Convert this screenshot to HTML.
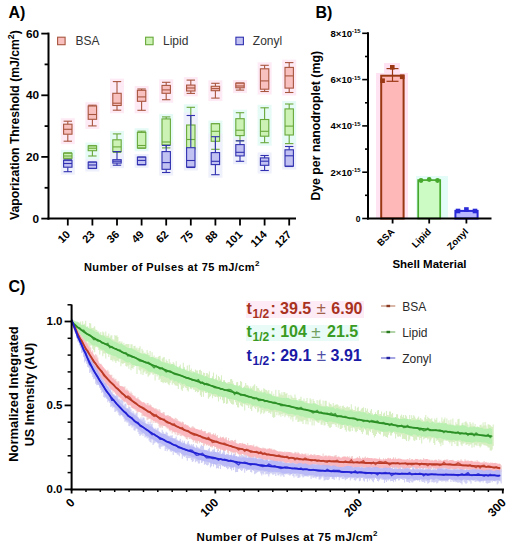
<!DOCTYPE html>
<html><head><meta charset="utf-8"><style>
html,body{margin:0;padding:0;background:#fff;}
svg{display:block;font-family:"Liberation Sans", sans-serif;}
</style></head><body>
<svg width="508" height="550" viewBox="0 0 508 550" font-family='"Liberation Sans", sans-serif'>
<rect width="508" height="550" fill="#fff"/>
<rect x="60.8" y="118.2" width="14" height="26.0" fill="#fdeaf5"/>
<rect x="60.8" y="149.8" width="14" height="12.2" fill="#e6fbf6"/>
<rect x="60.8" y="157.0" width="14" height="17.7" fill="#eef0fb"/>
<rect x="85.4" y="102.2" width="14" height="26.7" fill="#fdeaf5"/>
<rect x="85.4" y="142.5" width="14" height="16.5" fill="#e6fbf6"/>
<rect x="85.4" y="159.0" width="14" height="12.5" fill="#eef0fb"/>
<rect x="110.0" y="78.6" width="14" height="34.6" fill="#fdeaf5"/>
<rect x="110.0" y="130.9" width="14" height="24.4" fill="#e6fbf6"/>
<rect x="110.0" y="148.6" width="14" height="19.6" fill="#eef0fb"/>
<rect x="134.6" y="86.0" width="14" height="27.3" fill="#fdeaf5"/>
<rect x="134.6" y="128.2" width="14" height="23.1" fill="#e6fbf6"/>
<rect x="134.6" y="154.0" width="14" height="13.8" fill="#eef0fb"/>
<rect x="159.2" y="79.3" width="14" height="23.4" fill="#fdeaf5"/>
<rect x="159.2" y="113.9" width="14" height="37.0" fill="#e6fbf6"/>
<rect x="159.2" y="142.4" width="14" height="33.1" fill="#eef0fb"/>
<rect x="183.8" y="77.1" width="14" height="19.3" fill="#fdeaf5"/>
<rect x="183.8" y="104.3" width="14" height="48.7" fill="#e6fbf6"/>
<rect x="183.8" y="112.5" width="14" height="58.0" fill="#eef0fb"/>
<rect x="208.4" y="80.3" width="14" height="20.8" fill="#fdeaf5"/>
<rect x="208.4" y="120.6" width="14" height="31.7" fill="#e6fbf6"/>
<rect x="208.4" y="133.7" width="14" height="44.0" fill="#eef0fb"/>
<rect x="233.0" y="80.0" width="14" height="13.1" fill="#fdeaf5"/>
<rect x="233.0" y="109.7" width="14" height="34.1" fill="#e6fbf6"/>
<rect x="233.0" y="137.8" width="14" height="26.5" fill="#eef0fb"/>
<rect x="257.6" y="62.3" width="14" height="32.2" fill="#fdeaf5"/>
<rect x="257.6" y="104.8" width="14" height="40.9" fill="#e6fbf6"/>
<rect x="257.6" y="152.5" width="14" height="21.0" fill="#eef0fb"/>
<rect x="282.2" y="59.6" width="14" height="35.9" fill="#fdeaf5"/>
<rect x="282.2" y="101.0" width="14" height="45.6" fill="#e6fbf6"/>
<rect x="282.2" y="143.5" width="14" height="26.0" fill="#eef0fb"/>
<line x1="67.8" y1="152.8" x2="67.8" y2="153.3" stroke="#68a83a" stroke-width="1.1"/><line x1="67.8" y1="158.3" x2="67.8" y2="159.0" stroke="#68a83a" stroke-width="1.1"/><line x1="63.6" y1="152.8" x2="72.0" y2="152.8" stroke="#68a83a" stroke-width="1.1"/><line x1="63.6" y1="159.0" x2="72.0" y2="159.0" stroke="#68a83a" stroke-width="1.1"/><rect x="63.6" y="153.3" width="8.4" height="5.0" fill="#cdf2b5" stroke="#68a83a" stroke-width="1.1"/><line x1="63.6" y1="156.0" x2="72.0" y2="156.0" stroke="#68a83a" stroke-width="1.1"/>
<line x1="92.4" y1="145.5" x2="92.4" y2="145.9" stroke="#68a83a" stroke-width="1.1"/><line x1="92.4" y1="150.7" x2="92.4" y2="156.0" stroke="#68a83a" stroke-width="1.1"/><line x1="88.2" y1="145.5" x2="96.6" y2="145.5" stroke="#68a83a" stroke-width="1.1"/><line x1="88.2" y1="156.0" x2="96.6" y2="156.0" stroke="#68a83a" stroke-width="1.1"/><rect x="88.2" y="145.9" width="8.4" height="4.8" fill="#cdf2b5" stroke="#68a83a" stroke-width="1.1"/><line x1="88.2" y1="148.2" x2="96.6" y2="148.2" stroke="#68a83a" stroke-width="1.1"/>
<line x1="117.0" y1="133.9" x2="117.0" y2="139.8" stroke="#68a83a" stroke-width="1.1"/><line x1="117.0" y1="151.6" x2="117.0" y2="152.3" stroke="#68a83a" stroke-width="1.1"/><line x1="112.8" y1="133.9" x2="121.2" y2="133.9" stroke="#68a83a" stroke-width="1.1"/><line x1="112.8" y1="152.3" x2="121.2" y2="152.3" stroke="#68a83a" stroke-width="1.1"/><rect x="112.8" y="139.8" width="8.4" height="11.8" fill="#cdf2b5" stroke="#68a83a" stroke-width="1.1"/><line x1="112.8" y1="146.9" x2="121.2" y2="146.9" stroke="#68a83a" stroke-width="1.1"/>
<line x1="141.6" y1="131.2" x2="141.6" y2="132.4" stroke="#68a83a" stroke-width="1.1"/><line x1="141.6" y1="147.9" x2="141.6" y2="148.3" stroke="#68a83a" stroke-width="1.1"/><line x1="137.4" y1="131.2" x2="145.8" y2="131.2" stroke="#68a83a" stroke-width="1.1"/><line x1="137.4" y1="148.3" x2="145.8" y2="148.3" stroke="#68a83a" stroke-width="1.1"/><rect x="137.4" y="132.4" width="8.4" height="15.5" fill="#cdf2b5" stroke="#68a83a" stroke-width="1.1"/><line x1="137.4" y1="145.5" x2="145.8" y2="145.5" stroke="#68a83a" stroke-width="1.1"/>
<line x1="166.2" y1="116.9" x2="166.2" y2="118.9" stroke="#68a83a" stroke-width="1.1"/><line x1="166.2" y1="144.9" x2="166.2" y2="147.9" stroke="#68a83a" stroke-width="1.1"/><line x1="162.0" y1="116.9" x2="170.4" y2="116.9" stroke="#68a83a" stroke-width="1.1"/><line x1="162.0" y1="147.9" x2="170.4" y2="147.9" stroke="#68a83a" stroke-width="1.1"/><rect x="162.0" y="118.9" width="8.4" height="26.0" fill="#cdf2b5" stroke="#68a83a" stroke-width="1.1"/><line x1="162.0" y1="142.0" x2="170.4" y2="142.0" stroke="#68a83a" stroke-width="1.1"/>
<line x1="190.8" y1="107.3" x2="190.8" y2="125.0" stroke="#68a83a" stroke-width="1.1"/><line x1="190.8" y1="149.0" x2="190.8" y2="150.0" stroke="#68a83a" stroke-width="1.1"/><line x1="186.6" y1="107.3" x2="195.0" y2="107.3" stroke="#68a83a" stroke-width="1.1"/><line x1="186.6" y1="150.0" x2="195.0" y2="150.0" stroke="#68a83a" stroke-width="1.1"/><rect x="186.6" y="125.0" width="8.4" height="24.0" fill="#cdf2b5" stroke="#68a83a" stroke-width="1.1"/><line x1="186.6" y1="139.5" x2="195.0" y2="139.5" stroke="#68a83a" stroke-width="1.1"/>
<line x1="215.4" y1="123.6" x2="215.4" y2="123.8" stroke="#68a83a" stroke-width="1.1"/><line x1="215.4" y1="141.3" x2="215.4" y2="149.3" stroke="#68a83a" stroke-width="1.1"/><line x1="211.2" y1="123.6" x2="219.6" y2="123.6" stroke="#68a83a" stroke-width="1.1"/><line x1="211.2" y1="149.3" x2="219.6" y2="149.3" stroke="#68a83a" stroke-width="1.1"/><rect x="211.2" y="123.8" width="8.4" height="17.5" fill="#cdf2b5" stroke="#68a83a" stroke-width="1.1"/><line x1="211.2" y1="131.3" x2="219.6" y2="131.3" stroke="#68a83a" stroke-width="1.1"/>
<line x1="240.0" y1="112.7" x2="240.0" y2="118.7" stroke="#68a83a" stroke-width="1.1"/><line x1="240.0" y1="135.6" x2="240.0" y2="140.8" stroke="#68a83a" stroke-width="1.1"/><line x1="235.8" y1="112.7" x2="244.2" y2="112.7" stroke="#68a83a" stroke-width="1.1"/><line x1="235.8" y1="140.8" x2="244.2" y2="140.8" stroke="#68a83a" stroke-width="1.1"/><rect x="235.8" y="118.7" width="8.4" height="16.9" fill="#cdf2b5" stroke="#68a83a" stroke-width="1.1"/><line x1="235.8" y1="130.2" x2="244.2" y2="130.2" stroke="#68a83a" stroke-width="1.1"/>
<line x1="264.6" y1="107.8" x2="264.6" y2="119.5" stroke="#68a83a" stroke-width="1.1"/><line x1="264.6" y1="136.2" x2="264.6" y2="142.7" stroke="#68a83a" stroke-width="1.1"/><line x1="260.4" y1="107.8" x2="268.8" y2="107.8" stroke="#68a83a" stroke-width="1.1"/><line x1="260.4" y1="142.7" x2="268.8" y2="142.7" stroke="#68a83a" stroke-width="1.1"/><rect x="260.4" y="119.5" width="8.4" height="16.7" fill="#cdf2b5" stroke="#68a83a" stroke-width="1.1"/><line x1="260.4" y1="131.3" x2="268.8" y2="131.3" stroke="#68a83a" stroke-width="1.1"/>
<line x1="289.2" y1="104.0" x2="289.2" y2="108.9" stroke="#68a83a" stroke-width="1.1"/><line x1="289.2" y1="135.0" x2="289.2" y2="143.6" stroke="#68a83a" stroke-width="1.1"/><line x1="285.0" y1="104.0" x2="293.4" y2="104.0" stroke="#68a83a" stroke-width="1.1"/><line x1="285.0" y1="143.6" x2="293.4" y2="143.6" stroke="#68a83a" stroke-width="1.1"/><rect x="285.0" y="108.9" width="8.4" height="26.1" fill="#cdf2b5" stroke="#68a83a" stroke-width="1.1"/><line x1="285.0" y1="126.1" x2="293.4" y2="126.1" stroke="#68a83a" stroke-width="1.1"/>
<line x1="67.8" y1="121.2" x2="67.8" y2="124.2" stroke="#a8553e" stroke-width="1.1"/><line x1="67.8" y1="134.2" x2="67.8" y2="141.2" stroke="#a8553e" stroke-width="1.1"/><line x1="63.6" y1="121.2" x2="72.0" y2="121.2" stroke="#a8553e" stroke-width="1.1"/><line x1="63.6" y1="141.2" x2="72.0" y2="141.2" stroke="#a8553e" stroke-width="1.1"/><rect x="63.6" y="124.2" width="8.4" height="10.0" fill="#f9c0c0" stroke="#a8553e" stroke-width="1.1"/><line x1="63.6" y1="129.3" x2="72.0" y2="129.3" stroke="#a8553e" stroke-width="1.1"/>
<line x1="92.4" y1="105.2" x2="92.4" y2="106.0" stroke="#a8553e" stroke-width="1.1"/><line x1="92.4" y1="119.3" x2="92.4" y2="125.9" stroke="#a8553e" stroke-width="1.1"/><line x1="88.2" y1="105.2" x2="96.6" y2="105.2" stroke="#a8553e" stroke-width="1.1"/><line x1="88.2" y1="125.9" x2="96.6" y2="125.9" stroke="#a8553e" stroke-width="1.1"/><rect x="88.2" y="106.0" width="8.4" height="13.3" fill="#f9c0c0" stroke="#a8553e" stroke-width="1.1"/><line x1="88.2" y1="114.5" x2="96.6" y2="114.5" stroke="#a8553e" stroke-width="1.1"/>
<line x1="117.0" y1="81.6" x2="117.0" y2="93.3" stroke="#a8553e" stroke-width="1.1"/><line x1="117.0" y1="105.5" x2="117.0" y2="110.2" stroke="#a8553e" stroke-width="1.1"/><line x1="112.8" y1="81.6" x2="121.2" y2="81.6" stroke="#a8553e" stroke-width="1.1"/><line x1="112.8" y1="110.2" x2="121.2" y2="110.2" stroke="#a8553e" stroke-width="1.1"/><rect x="112.8" y="93.3" width="8.4" height="12.2" fill="#f9c0c0" stroke="#a8553e" stroke-width="1.1"/><line x1="112.8" y1="103.2" x2="121.2" y2="103.2" stroke="#a8553e" stroke-width="1.1"/>
<line x1="141.6" y1="89.0" x2="141.6" y2="90.3" stroke="#a8553e" stroke-width="1.1"/><line x1="141.6" y1="101.3" x2="141.6" y2="110.3" stroke="#a8553e" stroke-width="1.1"/><line x1="137.4" y1="89.0" x2="145.8" y2="89.0" stroke="#a8553e" stroke-width="1.1"/><line x1="137.4" y1="110.3" x2="145.8" y2="110.3" stroke="#a8553e" stroke-width="1.1"/><rect x="137.4" y="90.3" width="8.4" height="11.0" fill="#f9c0c0" stroke="#a8553e" stroke-width="1.1"/><line x1="137.4" y1="96.9" x2="145.8" y2="96.9" stroke="#a8553e" stroke-width="1.1"/>
<line x1="166.2" y1="82.3" x2="166.2" y2="85.4" stroke="#a8553e" stroke-width="1.1"/><line x1="166.2" y1="93.3" x2="166.2" y2="99.7" stroke="#a8553e" stroke-width="1.1"/><line x1="162.0" y1="82.3" x2="170.4" y2="82.3" stroke="#a8553e" stroke-width="1.1"/><line x1="162.0" y1="99.7" x2="170.4" y2="99.7" stroke="#a8553e" stroke-width="1.1"/><rect x="162.0" y="85.4" width="8.4" height="7.9" fill="#f9c0c0" stroke="#a8553e" stroke-width="1.1"/><line x1="162.0" y1="89.9" x2="170.4" y2="89.9" stroke="#a8553e" stroke-width="1.1"/>
<line x1="190.8" y1="80.1" x2="190.8" y2="85.1" stroke="#a8553e" stroke-width="1.1"/><line x1="190.8" y1="91.0" x2="190.8" y2="93.4" stroke="#a8553e" stroke-width="1.1"/><line x1="186.6" y1="80.1" x2="195.0" y2="80.1" stroke="#a8553e" stroke-width="1.1"/><line x1="186.6" y1="93.4" x2="195.0" y2="93.4" stroke="#a8553e" stroke-width="1.1"/><rect x="186.6" y="85.1" width="8.4" height="5.9" fill="#f9c0c0" stroke="#a8553e" stroke-width="1.1"/><line x1="186.6" y1="88.0" x2="195.0" y2="88.0" stroke="#a8553e" stroke-width="1.1"/>
<line x1="215.4" y1="83.3" x2="215.4" y2="86.3" stroke="#a8553e" stroke-width="1.1"/><line x1="215.4" y1="90.7" x2="215.4" y2="98.1" stroke="#a8553e" stroke-width="1.1"/><line x1="211.2" y1="83.3" x2="219.6" y2="83.3" stroke="#a8553e" stroke-width="1.1"/><line x1="211.2" y1="98.1" x2="219.6" y2="98.1" stroke="#a8553e" stroke-width="1.1"/><rect x="211.2" y="86.3" width="8.4" height="4.4" fill="#f9c0c0" stroke="#a8553e" stroke-width="1.1"/><line x1="211.2" y1="88.6" x2="219.6" y2="88.6" stroke="#a8553e" stroke-width="1.1"/>
<line x1="240.0" y1="83.0" x2="240.0" y2="83.2" stroke="#a8553e" stroke-width="1.1"/><line x1="240.0" y1="87.8" x2="240.0" y2="90.1" stroke="#a8553e" stroke-width="1.1"/><line x1="235.8" y1="83.0" x2="244.2" y2="83.0" stroke="#a8553e" stroke-width="1.1"/><line x1="235.8" y1="90.1" x2="244.2" y2="90.1" stroke="#a8553e" stroke-width="1.1"/><rect x="235.8" y="83.2" width="8.4" height="4.6" fill="#f9c0c0" stroke="#a8553e" stroke-width="1.1"/><line x1="235.8" y1="86.0" x2="244.2" y2="86.0" stroke="#a8553e" stroke-width="1.1"/>
<line x1="264.6" y1="65.3" x2="264.6" y2="68.8" stroke="#a8553e" stroke-width="1.1"/><line x1="264.6" y1="89.2" x2="264.6" y2="91.5" stroke="#a8553e" stroke-width="1.1"/><line x1="260.4" y1="65.3" x2="268.8" y2="65.3" stroke="#a8553e" stroke-width="1.1"/><line x1="260.4" y1="91.5" x2="268.8" y2="91.5" stroke="#a8553e" stroke-width="1.1"/><rect x="260.4" y="68.8" width="8.4" height="20.4" fill="#f9c0c0" stroke="#a8553e" stroke-width="1.1"/><line x1="260.4" y1="80.9" x2="268.8" y2="80.9" stroke="#a8553e" stroke-width="1.1"/>
<line x1="289.2" y1="62.6" x2="289.2" y2="67.4" stroke="#a8553e" stroke-width="1.1"/><line x1="289.2" y1="88.1" x2="289.2" y2="92.5" stroke="#a8553e" stroke-width="1.1"/><line x1="285.0" y1="62.6" x2="293.4" y2="62.6" stroke="#a8553e" stroke-width="1.1"/><line x1="285.0" y1="92.5" x2="293.4" y2="92.5" stroke="#a8553e" stroke-width="1.1"/><rect x="285.0" y="67.4" width="8.4" height="20.7" fill="#f9c0c0" stroke="#a8553e" stroke-width="1.1"/><line x1="285.0" y1="75.9" x2="293.4" y2="75.9" stroke="#a8553e" stroke-width="1.1"/>
<line x1="67.8" y1="160.0" x2="67.8" y2="160.3" stroke="#3030b0" stroke-width="1.1"/><line x1="67.8" y1="167.2" x2="67.8" y2="171.7" stroke="#3030b0" stroke-width="1.1"/><line x1="63.6" y1="160.0" x2="72.0" y2="160.0" stroke="#3030b0" stroke-width="1.1"/><line x1="63.6" y1="171.7" x2="72.0" y2="171.7" stroke="#3030b0" stroke-width="1.1"/><rect x="63.6" y="160.3" width="8.4" height="6.9" fill="#c2c2f2" stroke="#3030b0" stroke-width="1.1"/><line x1="63.6" y1="163.5" x2="72.0" y2="163.5" stroke="#3030b0" stroke-width="1.1"/>
<line x1="92.4" y1="162.0" x2="92.4" y2="162.2" stroke="#3030b0" stroke-width="1.1"/><line x1="92.4" y1="168.3" x2="92.4" y2="168.5" stroke="#3030b0" stroke-width="1.1"/><line x1="88.2" y1="162.0" x2="96.6" y2="162.0" stroke="#3030b0" stroke-width="1.1"/><line x1="88.2" y1="168.5" x2="96.6" y2="168.5" stroke="#3030b0" stroke-width="1.1"/><rect x="88.2" y="162.2" width="8.4" height="6.1" fill="#c2c2f2" stroke="#3030b0" stroke-width="1.1"/><line x1="88.2" y1="165.0" x2="96.6" y2="165.0" stroke="#3030b0" stroke-width="1.1"/>
<line x1="117.0" y1="151.6" x2="117.0" y2="159.7" stroke="#3030b0" stroke-width="1.1"/><line x1="117.0" y1="163.1" x2="117.0" y2="165.2" stroke="#3030b0" stroke-width="1.1"/><line x1="112.8" y1="151.6" x2="121.2" y2="151.6" stroke="#3030b0" stroke-width="1.1"/><line x1="112.8" y1="165.2" x2="121.2" y2="165.2" stroke="#3030b0" stroke-width="1.1"/><rect x="112.8" y="159.7" width="8.4" height="3.4" fill="#c2c2f2" stroke="#3030b0" stroke-width="1.1"/><line x1="112.8" y1="161.2" x2="121.2" y2="161.2" stroke="#3030b0" stroke-width="1.1"/>
<line x1="141.6" y1="157.0" x2="141.6" y2="157.2" stroke="#3030b0" stroke-width="1.1"/><line x1="141.6" y1="164.6" x2="141.6" y2="164.8" stroke="#3030b0" stroke-width="1.1"/><line x1="137.4" y1="157.0" x2="145.8" y2="157.0" stroke="#3030b0" stroke-width="1.1"/><line x1="137.4" y1="164.8" x2="145.8" y2="164.8" stroke="#3030b0" stroke-width="1.1"/><rect x="137.4" y="157.2" width="8.4" height="7.4" fill="#c2c2f2" stroke="#3030b0" stroke-width="1.1"/><line x1="137.4" y1="160.4" x2="145.8" y2="160.4" stroke="#3030b0" stroke-width="1.1"/>
<line x1="166.2" y1="145.4" x2="166.2" y2="151.6" stroke="#3030b0" stroke-width="1.1"/><line x1="166.2" y1="169.3" x2="166.2" y2="172.5" stroke="#3030b0" stroke-width="1.1"/><line x1="162.0" y1="145.4" x2="170.4" y2="145.4" stroke="#3030b0" stroke-width="1.1"/><line x1="162.0" y1="172.5" x2="170.4" y2="172.5" stroke="#3030b0" stroke-width="1.1"/><rect x="162.0" y="151.6" width="8.4" height="17.7" fill="#c2c2f2" stroke="#3030b0" stroke-width="1.1"/><line x1="162.0" y1="162.6" x2="170.4" y2="162.6" stroke="#3030b0" stroke-width="1.1"/>
<line x1="190.8" y1="115.5" x2="190.8" y2="147.7" stroke="#3030b0" stroke-width="1.1"/><line x1="190.8" y1="167.0" x2="190.8" y2="167.5" stroke="#3030b0" stroke-width="1.1"/><line x1="186.6" y1="115.5" x2="195.0" y2="115.5" stroke="#3030b0" stroke-width="1.1"/><line x1="186.6" y1="167.5" x2="195.0" y2="167.5" stroke="#3030b0" stroke-width="1.1"/><rect x="186.6" y="147.7" width="8.4" height="19.3" fill="#c2c2f2" stroke="#3030b0" stroke-width="1.1"/><line x1="186.6" y1="160.5" x2="195.0" y2="160.5" stroke="#3030b0" stroke-width="1.1"/>
<line x1="215.4" y1="136.7" x2="215.4" y2="152.6" stroke="#3030b0" stroke-width="1.1"/><line x1="215.4" y1="164.6" x2="215.4" y2="174.7" stroke="#3030b0" stroke-width="1.1"/><line x1="211.2" y1="136.7" x2="219.6" y2="136.7" stroke="#3030b0" stroke-width="1.1"/><line x1="211.2" y1="174.7" x2="219.6" y2="174.7" stroke="#3030b0" stroke-width="1.1"/><rect x="211.2" y="152.6" width="8.4" height="12.0" fill="#c2c2f2" stroke="#3030b0" stroke-width="1.1"/><line x1="211.2" y1="161.3" x2="219.6" y2="161.3" stroke="#3030b0" stroke-width="1.1"/>
<line x1="240.0" y1="140.8" x2="240.0" y2="144.6" stroke="#3030b0" stroke-width="1.1"/><line x1="240.0" y1="155.9" x2="240.0" y2="161.3" stroke="#3030b0" stroke-width="1.1"/><line x1="235.8" y1="140.8" x2="244.2" y2="140.8" stroke="#3030b0" stroke-width="1.1"/><line x1="235.8" y1="161.3" x2="244.2" y2="161.3" stroke="#3030b0" stroke-width="1.1"/><rect x="235.8" y="144.6" width="8.4" height="11.3" fill="#c2c2f2" stroke="#3030b0" stroke-width="1.1"/><line x1="235.8" y1="152.3" x2="244.2" y2="152.3" stroke="#3030b0" stroke-width="1.1"/>
<line x1="264.6" y1="155.5" x2="264.6" y2="157.9" stroke="#3030b0" stroke-width="1.1"/><line x1="264.6" y1="165.3" x2="264.6" y2="170.5" stroke="#3030b0" stroke-width="1.1"/><line x1="260.4" y1="155.5" x2="268.8" y2="155.5" stroke="#3030b0" stroke-width="1.1"/><line x1="260.4" y1="170.5" x2="268.8" y2="170.5" stroke="#3030b0" stroke-width="1.1"/><rect x="260.4" y="157.9" width="8.4" height="7.4" fill="#c2c2f2" stroke="#3030b0" stroke-width="1.1"/><line x1="260.4" y1="161.2" x2="268.8" y2="161.2" stroke="#3030b0" stroke-width="1.1"/>
<line x1="289.2" y1="146.5" x2="289.2" y2="149.8" stroke="#3030b0" stroke-width="1.1"/><line x1="289.2" y1="166.1" x2="289.2" y2="166.5" stroke="#3030b0" stroke-width="1.1"/><line x1="285.0" y1="146.5" x2="293.4" y2="146.5" stroke="#3030b0" stroke-width="1.1"/><line x1="285.0" y1="166.5" x2="293.4" y2="166.5" stroke="#3030b0" stroke-width="1.1"/><rect x="285.0" y="149.8" width="8.4" height="16.3" fill="#c2c2f2" stroke="#3030b0" stroke-width="1.1"/><line x1="285.0" y1="155.8" x2="293.4" y2="155.8" stroke="#3030b0" stroke-width="1.1"/>
<line x1="48.5" y1="32.6" x2="48.5" y2="219.6" stroke="#000" stroke-width="2"/>
<line x1="47.5" y1="218.6" x2="296" y2="218.6" stroke="#000" stroke-width="2"/>
<line x1="41.3" y1="218.6" x2="48.5" y2="218.6" stroke="#000" stroke-width="1.8"/>
<line x1="44.6" y1="187.8" x2="48.5" y2="187.8" stroke="#000" stroke-width="1.8"/>
<line x1="41.3" y1="156.9" x2="48.5" y2="156.9" stroke="#000" stroke-width="1.8"/>
<line x1="44.6" y1="126.1" x2="48.5" y2="126.1" stroke="#000" stroke-width="1.8"/>
<line x1="41.3" y1="95.3" x2="48.5" y2="95.3" stroke="#000" stroke-width="1.8"/>
<line x1="44.6" y1="64.4" x2="48.5" y2="64.4" stroke="#000" stroke-width="1.8"/>
<line x1="41.3" y1="33.6" x2="48.5" y2="33.6" stroke="#000" stroke-width="1.8"/>
<text x="39" y="222.6" text-anchor="end" font-size="11.8" font-weight="bold">0</text>
<text x="39" y="160.9" text-anchor="end" font-size="11.8" font-weight="bold">20</text>
<text x="39" y="99.3" text-anchor="end" font-size="11.8" font-weight="bold">40</text>
<text x="39" y="37.6" text-anchor="end" font-size="11.8" font-weight="bold">60</text>
<line x1="67.8" y1="218.6" x2="67.8" y2="225.5" stroke="#000" stroke-width="1.8"/>
<text transform="translate(70.8,235.2) rotate(-45)" text-anchor="end" font-size="11" font-weight="bold">10</text>
<line x1="92.4" y1="218.6" x2="92.4" y2="225.5" stroke="#000" stroke-width="1.8"/>
<text transform="translate(95.4,235.2) rotate(-45)" text-anchor="end" font-size="11" font-weight="bold">23</text>
<line x1="117.0" y1="218.6" x2="117.0" y2="225.5" stroke="#000" stroke-width="1.8"/>
<text transform="translate(120.0,235.2) rotate(-45)" text-anchor="end" font-size="11" font-weight="bold">36</text>
<line x1="141.6" y1="218.6" x2="141.6" y2="225.5" stroke="#000" stroke-width="1.8"/>
<text transform="translate(144.6,235.2) rotate(-45)" text-anchor="end" font-size="11" font-weight="bold">49</text>
<line x1="166.2" y1="218.6" x2="166.2" y2="225.5" stroke="#000" stroke-width="1.8"/>
<text transform="translate(169.2,235.2) rotate(-45)" text-anchor="end" font-size="11" font-weight="bold">62</text>
<line x1="190.8" y1="218.6" x2="190.8" y2="225.5" stroke="#000" stroke-width="1.8"/>
<text transform="translate(193.8,235.2) rotate(-45)" text-anchor="end" font-size="11" font-weight="bold">75</text>
<line x1="215.4" y1="218.6" x2="215.4" y2="225.5" stroke="#000" stroke-width="1.8"/>
<text transform="translate(218.4,235.2) rotate(-45)" text-anchor="end" font-size="11" font-weight="bold">88</text>
<line x1="240.0" y1="218.6" x2="240.0" y2="225.5" stroke="#000" stroke-width="1.8"/>
<text transform="translate(243.0,235.2) rotate(-45)" text-anchor="end" font-size="11" font-weight="bold">101</text>
<line x1="264.6" y1="218.6" x2="264.6" y2="225.5" stroke="#000" stroke-width="1.8"/>
<text transform="translate(267.6,235.2) rotate(-45)" text-anchor="end" font-size="11" font-weight="bold">114</text>
<line x1="289.2" y1="218.6" x2="289.2" y2="225.5" stroke="#000" stroke-width="1.8"/>
<text transform="translate(292.2,235.2) rotate(-45)" text-anchor="end" font-size="11" font-weight="bold">127</text>
<rect x="57.6" y="37.2" width="7.5" height="7.5" fill="#f9c0c0" stroke="#a8553e" stroke-width="1.1"/>
<text x="75.5" y="44.8" font-size="12" fill="#333">BSA</text>
<rect x="145.6" y="37.2" width="7.5" height="7.5" fill="#cdf2b5" stroke="#68a83a" stroke-width="1.1"/>
<text x="163" y="44.8" font-size="12" fill="#333">Lipid</text>
<rect x="235.9" y="37.2" width="7.5" height="7.5" fill="#c2c2f2" stroke="#3030b0" stroke-width="1.1"/>
<text x="252.8" y="44.8" font-size="12" fill="#333">Zonyl</text>
<text x="8.5" y="18" font-size="16" font-weight="bold">A)</text>
<text transform="translate(19,125) rotate(-90)" text-anchor="middle" font-size="12.2" font-weight="bold">Vaporization Threshold (mJ/cm<tspan font-size="9" dy="-5">2</tspan><tspan dy="5">)</tspan></text>
<text x="84" y="270.8" font-size="11" font-weight="bold" textLength="175.5" lengthAdjust="spacing">Number of Pulses at 75 mJ/cm<tspan font-size="8" dy="-4.5">2</tspan></text><text x="315.5" y="18.2" font-size="16" font-weight="bold">B)</text>
<rect x="376" y="73" width="32" height="146" fill="#ffe3f3"/><rect x="384" y="63" width="16" height="10" fill="#ffe3f3"/>
<rect x="416" y="176" width="32" height="43" fill="#e3fcf7"/>
<rect x="381.2" y="75.7" width="22.4" height="142.8" fill="#ffb8b8" stroke="#9a3814" stroke-width="2"/>
<rect x="418.2" y="180.1" width="22.0" height="38.4" fill="#ccfcc4" stroke="#46a82c" stroke-width="1.7"/>
<rect x="455.4" y="210.9" width="22.2" height="7.6" fill="#b9b9ff" stroke="#2a2ad8" stroke-width="2"/>
<line x1="392.5" y1="68.6" x2="392.5" y2="81.3" stroke="#9a3814" stroke-width="1.2"/>
<line x1="386.5" y1="68.6" x2="398.5" y2="68.6" stroke="#9a3814" stroke-width="1.2"/>
<line x1="386.5" y1="81.3" x2="398.5" y2="81.3" stroke="#9a3814" stroke-width="1.2"/>
<rect x="380.3" y="78.4" width="4.6" height="4.6" fill="#9a3814"/>
<rect x="390.0" y="65.0" width="4.6" height="4.6" fill="#9a3814"/>
<rect x="399.9" y="74.5" width="4.6" height="4.6" fill="#9a3814"/>
<circle cx="421.0" cy="180.5" r="2.4" fill="#46a82c"/>
<circle cx="429.2" cy="179.5" r="2.4" fill="#46a82c"/>
<circle cx="437.5" cy="180.5" r="2.4" fill="#46a82c"/>
<rect x="455.7" y="208.7" width="4.6" height="4.6" fill="#2a2ad8"/>
<rect x="464.1" y="207.2" width="4.6" height="4.6" fill="#2a2ad8"/>
<rect x="472.7" y="208.7" width="4.6" height="4.6" fill="#2a2ad8"/>
<line x1="368" y1="32.3" x2="368" y2="219.5" stroke="#000" stroke-width="2"/>
<line x1="367" y1="218.5" x2="491.5" y2="218.5" stroke="#000" stroke-width="2"/>
<line x1="362.2" y1="218.5" x2="368" y2="218.5" stroke="#000" stroke-width="1.6"/>
<line x1="365.0" y1="195.3" x2="368" y2="195.3" stroke="#000" stroke-width="1.6"/>
<line x1="362.2" y1="172.2" x2="368" y2="172.2" stroke="#000" stroke-width="1.6"/>
<line x1="365.0" y1="149.1" x2="368" y2="149.1" stroke="#000" stroke-width="1.6"/>
<line x1="362.2" y1="125.9" x2="368" y2="125.9" stroke="#000" stroke-width="1.6"/>
<line x1="365.0" y1="102.8" x2="368" y2="102.8" stroke="#000" stroke-width="1.6"/>
<line x1="362.2" y1="79.6" x2="368" y2="79.6" stroke="#000" stroke-width="1.6"/>
<line x1="365.0" y1="56.5" x2="368" y2="56.5" stroke="#000" stroke-width="1.6"/>
<line x1="362.2" y1="33.3" x2="368" y2="33.3" stroke="#000" stroke-width="1.6"/>
<text x="360.5" y="175.5" text-anchor="end" font-size="9" font-weight="bold" textLength="30" lengthAdjust="spacingAndGlyphs">2×10<tspan font-size="5.5" dy="-3.2">-15</tspan></text>
<text x="360.5" y="129.2" text-anchor="end" font-size="9" font-weight="bold" textLength="30" lengthAdjust="spacingAndGlyphs">4×10<tspan font-size="5.5" dy="-3.2">-15</tspan></text>
<text x="360.5" y="82.9" text-anchor="end" font-size="9" font-weight="bold" textLength="30" lengthAdjust="spacingAndGlyphs">6×10<tspan font-size="5.5" dy="-3.2">-15</tspan></text>
<text x="360.5" y="36.6" text-anchor="end" font-size="9" font-weight="bold" textLength="30" lengthAdjust="spacingAndGlyphs">8×10<tspan font-size="5.5" dy="-3.2">-15</tspan></text>
<text x="360.5" y="221.8" text-anchor="end" font-size="8.5" font-weight="bold">0</text>
<line x1="392.6" y1="218.5" x2="392.6" y2="223.5" stroke="#000" stroke-width="1.8"/>
<text transform="translate(395.1,232.5) rotate(-45)" text-anchor="end" font-size="9.5" font-weight="bold">BSA</text>
<line x1="429.2" y1="218.5" x2="429.2" y2="223.5" stroke="#000" stroke-width="1.8"/>
<text transform="translate(431.7,232.5) rotate(-45)" text-anchor="end" font-size="9.5" font-weight="bold">Lipid</text>
<line x1="466.4" y1="218.5" x2="466.4" y2="223.5" stroke="#000" stroke-width="1.8"/>
<text transform="translate(468.9,232.5) rotate(-45)" text-anchor="end" font-size="9.5" font-weight="bold">Zonyl</text>
<text x="429.5" y="268.4" text-anchor="middle" font-size="11.5" font-weight="bold">Shell Material</text>
<text transform="translate(320.0,125.8) rotate(-90)" text-anchor="middle" font-size="12.3" font-weight="bold">Dye per nanodroplet (mg)</text><path d="M71.6 319.0V324.9M72.6 320.3V326.5M73.6 319.9V327.1M74.6 320.8V330.2M75.6 323.0V333.3M76.6 322.7V333.5M77.6 322.0V334.4M78.6 322.2V335.6M79.6 322.7V338.0M80.7 321.6V337.6M81.7 325.3V339.8M82.7 321.2V341.3M83.7 324.5V343.7M84.7 323.8V344.9M85.7 320.7V344.3M86.7 327.2V344.9M87.7 326.2V341.8M88.7 328.4V346.5M89.7 322.9V349.0M90.7 323.6V345.6M91.7 327.8V345.4M92.7 327.9V348.7M93.7 327.4V350.0M94.7 326.3V352.2M95.7 329.4V347.2M96.8 329.9V346.9M97.8 331.4V347.5M98.8 331.5V350.0M99.8 333.4V354.4M100.8 331.9V350.4M101.8 335.1V350.7M102.8 331.5V356.2M103.8 332.5V353.5M104.8 335.4V353.5M105.8 331.4V358.4M106.8 335.7V352.7M107.8 335.7V353.8M108.8 333.5V356.9M109.8 337.4V354.7M110.8 335.5V359.9M111.8 335.2V360.3M112.9 339.3V361.5M113.9 339.7V359.6M114.9 335.1V361.2M115.9 336.1V362.9M116.9 335.3V360.8M117.9 337.0V360.8M118.9 341.8V361.9M119.9 341.0V359.1M120.9 342.7V366.3M121.9 341.6V363.2M122.9 345.1V364.0M123.9 342.8V363.3M124.9 345.1V363.0M125.9 344.1V365.9M126.9 344.0V366.7M127.9 344.2V365.6M128.9 344.1V368.8M130.0 348.6V364.8M131.0 344.3V370.2M132.0 344.2V368.0M133.0 348.4V368.8M134.0 345.9V367.1M135.0 345.8V365.2M136.0 348.6V366.1M137.0 347.5V374.0M138.0 349.8V366.2M139.0 348.0V369.8M140.0 346.2V370.8M141.0 353.0V374.3M142.0 348.8V369.3M143.0 350.4V374.9M144.0 353.6V372.4M145.0 352.6V371.2M146.1 354.3V374.1M147.1 350.1V373.3M148.1 352.7V376.7M149.1 354.9V375.5M150.1 351.0V374.5M151.1 357.1V372.7M152.1 352.2V373.5M153.1 357.0V375.0M154.1 355.4V374.0M155.1 357.8V380.5M156.1 356.9V373.8M157.1 360.2V376.4M158.1 357.0V374.4M159.1 355.9V379.9M160.1 355.7V378.8M161.1 361.7V382.1M162.2 358.6V382.3M163.2 357.6V383.2M164.2 356.9V382.1M165.2 362.3V383.1M166.2 359.5V382.4M167.2 361.1V382.6M168.2 364.3V384.2M169.2 359.1V385.3M170.2 362.5V382.8M171.2 363.7V380.8M172.2 364.3V384.7M173.2 362.0V383.0M174.2 363.5V384.2M175.2 367.7V385.4M176.2 361.3V385.5M177.2 366.9V385.9M178.3 368.1V389.0M179.3 365.9V383.8M180.3 364.4V385.3M181.3 369.8V389.4M182.3 369.4V390.9M183.3 362.8V388.1M184.3 367.0V386.2M185.3 369.7V387.6M186.3 369.6V387.9M187.3 365.6V390.2M188.3 371.7V391.4M189.3 364.7V386.3M190.3 369.9V388.7M191.3 368.4V389.3M192.3 371.2V388.1M193.3 371.2V389.6M194.3 372.4V389.7M195.4 369.6V392.0M196.4 370.5V391.1M197.4 370.4V392.6M198.4 374.2V391.9M199.4 370.0V390.5M200.4 369.8V395.2M201.4 371.1V397.1M202.4 375.5V392.3M203.4 372.6V396.7M204.4 373.0V391.5M205.4 376.0V393.0M206.4 373.0V393.0M207.4 373.2V391.8M208.4 374.6V398.8M209.4 371.4V397.2M210.4 378.3V396.2M211.5 378.4V394.6M212.5 376.2V398.2M213.5 372.5V395.7M214.5 379.1V396.6M215.5 378.2V397.0M216.5 374.5V396.4M217.5 379.7V397.2M218.5 376.0V401.5M219.5 377.3V397.1M220.5 379.6V399.2M221.5 375.3V397.1M222.5 382.0V400.2M223.5 380.2V403.4M224.5 380.0V403.0M225.5 382.2V397.3M226.5 382.7V404.0M227.6 382.4V403.5M228.6 382.0V398.3M229.6 382.0V401.2M230.6 379.2V402.8M231.6 379.0V403.9M232.6 380.7V404.6M233.6 383.5V404.4M234.6 385.0V400.1M235.6 385.4V402.2M236.6 382.3V405.0M237.6 382.0V407.3M238.6 386.6V407.6M239.6 385.1V402.8M240.6 380.9V405.3M241.6 381.8V406.2M242.6 388.5V406.8M243.6 387.2V403.7M244.7 385.7V410.4M245.7 383.0V404.6M246.7 385.2V405.3M247.7 385.2V405.5M248.7 386.6V407.9M249.7 389.7V405.2M250.7 386.3V408.9M251.7 388.0V411.1M252.7 386.6V407.3M253.7 385.5V406.3M254.7 384.2V407.7M255.7 390.8V409.1M256.7 385.9V407.1M257.7 388.1V412.4M258.7 388.2V411.5M259.7 390.3V408.3M260.8 391.1V414.3M261.8 389.8V412.8M262.8 392.8V409.9M263.8 388.2V413.7M264.8 389.1V412.6M265.8 389.9V410.7M266.8 390.2V411.5M267.8 391.5V410.9M268.8 390.0V412.9M269.8 394.4V412.4M270.8 395.1V414.1M271.8 391.2V411.7M272.8 395.8V417.0M273.8 393.7V418.0M274.8 396.0V416.9M275.8 389.7V412.1M276.9 396.4V415.2M277.9 396.4V412.3M278.9 390.1V415.6M279.9 393.2V414.4M280.9 394.7V416.8M281.9 392.3V413.9M282.9 395.2V416.0M283.9 391.9V413.6M284.9 392.2V417.3M285.9 393.9V415.5M286.9 393.0V414.4M287.9 398.3V415.9M288.9 395.0V417.4M289.9 399.0V416.0M290.9 394.8V419.5M291.9 396.6V417.3M292.9 397.7V421.5M294.0 397.9V416.7M295.0 394.6V414.4M296.0 397.8V420.1M297.0 400.7V418.4M298.0 401.9V422.1M299.0 399.0V421.7M300.0 398.7V420.5M301.0 396.7V421.8M302.0 400.6V421.2M303.0 402.0V423.9M304.0 398.5V420.3M305.0 401.5V419.8M306.0 400.9V424.3M307.0 397.9V421.2M308.0 403.3V424.5M309.0 402.9V418.2M310.1 398.3V421.8M311.1 399.6V419.4M312.1 404.8V425.6M313.1 399.0V420.6M314.1 401.1V425.5M315.1 403.3V420.4M316.1 404.9V421.2M317.1 400.1V421.9M318.1 405.6V423.1M319.1 400.4V422.5M320.1 399.6V420.7M321.1 403.8V424.8M322.1 405.7V424.8M323.1 400.6V422.5M324.1 406.0V425.5M325.1 400.7V425.3M326.2 400.8V421.9M327.2 408.0V423.9M328.2 406.7V425.9M329.2 402.6V427.4M330.2 404.1V428.1M331.2 404.4V427.1M332.2 406.5V424.2M333.2 403.1V424.3M334.2 405.7V423.7M335.2 404.8V424.9M336.2 404.6V427.0M337.2 404.2V423.7M338.2 405.2V427.8M339.2 406.7V425.2M340.2 405.7V429.1M341.2 408.2V429.1M342.2 406.1V428.0M343.3 405.6V425.0M344.3 407.1V427.5M345.3 408.1V429.9M346.3 407.2V431.7M347.3 406.3V425.5M348.3 407.6V430.6M349.3 407.0V431.4M350.3 409.2V431.5M351.3 404.2V427.7M352.3 408.8V430.9M353.3 409.9V427.6M354.3 410.1V428.6M355.3 406.3V431.6M356.3 411.0V432.2M357.3 407.7V430.9M358.3 406.7V428.8M359.4 411.0V430.1M360.4 410.6V430.3M361.4 408.8V432.1M362.4 407.9V433.9M363.4 407.2V431.7M364.4 412.6V428.7M365.4 408.1V430.2M366.4 410.8V434.7M367.4 408.5V434.4M368.4 411.9V435.4M369.4 412.9V430.7M370.4 410.7V431.9M371.4 409.1V429.4M372.4 413.2V433.0M373.4 415.7V434.9M374.4 414.0V437.4M375.5 412.3V436.1M376.5 413.9V434.1M377.5 410.6V431.7M378.5 409.9V432.8M379.5 414.3V434.0M380.5 413.9V434.4M381.5 411.4V431.4M382.5 416.2V431.9M383.5 413.4V436.5M384.5 412.4V435.7M385.5 416.0V436.4M386.5 411.0V437.0M387.5 415.1V437.7M388.5 415.2V434.7M389.5 411.5V432.7M390.5 411.6V435.4M391.6 414.3V435.4M392.6 412.9V433.1M393.6 417.4V431.9M394.6 418.2V433.6M395.6 417.3V438.4M396.6 414.3V434.3M397.6 414.2V436.6M398.6 417.9V436.8M399.6 419.2V436.2M400.6 415.8V436.7M401.6 414.6V434.6M402.6 416.7V439.1M403.6 415.1V438.8M404.6 418.1V439.0M405.6 415.1V439.4M406.6 416.3V440.9M407.6 418.8V435.2M408.7 420.8V441.2M409.7 415.1V439.4M410.7 419.0V436.3M411.7 415.3V436.6M412.7 418.0V437.0M413.7 415.3V440.3M414.7 416.6V441.1M415.7 418.4V439.6M416.7 419.3V440.0M417.7 417.7V436.7M418.7 416.5V437.3M419.7 419.6V439.9M420.7 417.9V438.0M421.7 419.6V443.4M422.7 419.8V436.8M423.7 421.0V439.6M424.8 417.4V438.6M425.8 415.1V437.9M426.8 419.3V437.9M427.8 416.8V439.6M428.8 417.9V438.4M429.8 418.7V442.4M430.8 419.3V440.4M431.8 418.2V438.5M432.8 421.0V438.0M433.8 423.7V443.1M434.8 418.5V444.9M435.8 419.9V438.0M436.8 417.8V441.1M437.8 423.2V440.1M438.8 423.0V442.0M439.8 421.6V443.6M440.9 424.3V446.2M441.9 417.4V442.5M442.9 421.4V445.1M443.9 419.3V440.7M444.9 417.6V438.8M445.9 423.1V440.8M446.9 418.6V440.7M447.9 424.3V440.8M448.9 420.2V442.1M449.9 423.4V443.4M450.9 419.5V441.7M451.9 425.6V445.9M452.9 418.4V442.3M453.9 424.7V442.1M454.9 426.0V444.0M455.9 422.3V441.1M456.9 423.9V446.0M458.0 419.3V446.2M459.0 418.7V441.2M460.0 425.1V441.9M461.0 425.8V444.4M462.0 423.2V446.0M463.0 422.6V443.8M464.0 425.5V443.5M465.0 421.9V442.6M466.0 421.2V444.7M467.0 422.7V444.7M468.0 424.4V444.1M469.0 427.7V446.0M470.0 421.9V444.4M471.0 423.7V444.5M472.0 425.7V447.7M473.0 422.4V443.1M474.1 426.3V447.2M475.1 423.9V444.8M476.1 427.0V445.4M477.1 426.3V445.8M478.1 427.3V443.5M479.1 427.2V446.0M480.1 424.9V447.4M481.1 424.4V446.2M482.1 426.6V444.2M483.1 422.5V444.5M484.1 425.6V445.3M485.1 422.1V445.5M486.1 425.5V445.5M487.1 428.5V446.3M488.1 424.3V447.5M489.1 424.6V447.4M490.2 425.1V450.6M491.2 426.2V450.7M492.2 426.9V449.5M493.2 424.6V446.0" stroke="#d8efc4" stroke-width="1.1" fill="none"/>
<path d="M71.6 319.2V323.7M72.6 321.7V326.1M73.6 322.1V328.5M74.6 324.3V331.5M75.6 325.2V332.6M76.6 328.4V338.2M77.6 329.6V339.3M78.6 331.5V342.0M79.6 332.3V342.1M80.7 334.4V346.0M81.7 337.3V348.9M82.7 337.7V349.0M83.7 338.5V354.3M84.7 339.4V353.8M85.7 342.2V356.3M86.7 342.5V358.5M87.7 343.3V356.8M88.7 345.7V360.9M89.7 346.7V362.5M90.7 347.5V361.8M91.7 351.8V365.2M92.7 350.2V365.6M93.7 355.1V367.7M94.7 355.4V369.4M95.7 354.1V371.2M96.8 355.3V373.9M97.8 357.4V375.6M98.8 363.2V376.2M99.8 364.1V376.6M100.8 363.7V376.3M101.8 366.9V380.9M102.8 367.1V381.6M103.8 368.4V380.4M104.8 370.0V384.0M105.8 370.1V385.3M106.8 371.0V386.0M107.8 369.8V385.2M108.8 371.6V386.0M109.8 374.8V389.2M110.8 374.7V389.5M111.8 374.8V390.1M112.9 378.3V392.9M113.9 377.5V390.9M114.9 379.6V392.0M115.9 378.8V393.3M116.9 384.0V395.7M117.9 380.8V396.8M118.9 381.3V396.7M119.9 386.1V397.2M120.9 385.9V397.3M121.9 386.3V398.0M122.9 386.2V400.4M123.9 386.9V401.4M124.9 386.2V402.6M125.9 389.8V401.1M126.9 388.6V403.3M127.9 390.1V404.9M128.9 391.2V408.1M130.0 393.2V405.1M131.0 391.5V404.8M132.0 393.2V407.7M133.0 396.5V407.9M134.0 396.9V408.7M135.0 395.8V409.7M136.0 398.6V411.1M137.0 398.2V413.6M138.0 397.0V412.3M139.0 399.3V411.4M140.0 399.9V411.5M141.0 401.0V412.9M142.0 402.4V416.4M143.0 403.6V415.7M144.0 403.6V416.3M145.0 403.2V416.6M146.1 404.7V414.9M147.1 402.9V420.3M148.1 402.9V419.5M149.1 405.6V419.1M150.1 404.3V418.4M151.1 405.2V422.8M152.1 407.2V419.4M153.1 407.3V422.9M154.1 409.5V421.0M155.1 408.3V423.0M156.1 408.3V422.8M157.1 408.9V422.9M158.1 410.4V424.1M159.1 409.0V426.5M160.1 410.3V428.1M161.1 413.3V426.4M162.2 413.8V427.9M163.2 411.9V426.0M164.2 412.3V426.0M165.2 415.9V426.3M166.2 415.5V427.5M167.2 415.0V428.7M168.2 415.1V427.2M169.2 415.9V430.6M170.2 416.1V431.6M171.2 418.6V430.1M172.2 418.6V433.5M173.2 420.3V432.0M174.2 419.2V432.6M175.2 417.7V434.5M176.2 418.2V431.9M177.2 419.1V435.4M178.3 423.3V435.0M179.3 421.4V434.4M180.3 421.4V435.9M181.3 424.2V436.3M182.3 421.5V435.0M183.3 421.9V434.9M184.3 424.8V436.5M185.3 423.9V437.4M186.3 425.9V439.0M187.3 425.8V439.4M188.3 427.5V437.2M189.3 427.6V438.9M190.3 427.9V438.8M191.3 427.2V439.2M192.3 426.3V439.7M193.3 426.5V442.2M194.3 427.6V440.6M195.4 429.5V442.7M196.4 429.1V442.7M197.4 429.5V443.7M198.4 430.0V441.3M199.4 430.8V443.3M200.4 431.2V441.9M201.4 429.0V443.0M202.4 431.5V443.0M203.4 432.3V446.3M204.4 431.0V445.4M205.4 430.9V443.3M206.4 433.6V445.5M207.4 433.4V444.8M208.4 432.3V445.9M209.4 432.2V445.4M210.4 432.6V446.9M211.5 436.0V447.3M212.5 434.4V447.4M213.5 433.2V445.9M214.5 434.7V447.5M215.5 433.6V447.1M216.5 435.7V448.9M217.5 435.0V449.5M218.5 438.0V450.9M219.5 439.4V448.4M220.5 436.6V450.9M221.5 438.7V447.8M222.5 437.1V449.7M223.5 436.7V451.7M224.5 439.8V451.4M225.5 437.4V450.8M226.5 437.2V449.6M227.6 442.0V452.8M228.6 437.9V453.7M229.6 441.0V451.1M230.6 440.3V452.3M231.6 439.9V452.7M232.6 440.1V452.8M233.6 441.2V453.6M234.6 440.1V452.7M235.6 439.7V455.2M236.6 443.5V452.2M237.6 444.3V453.6M238.6 444.5V454.4M239.6 442.9V455.1M240.6 445.2V455.6M241.6 445.0V457.8M242.6 442.8V453.4M243.6 444.3V454.8M244.7 443.8V457.4M245.7 445.6V455.5M246.7 445.7V454.3M247.7 443.1V456.4M248.7 444.9V457.8M249.7 445.2V458.6M250.7 445.7V456.8M251.7 447.5V458.9M252.7 446.7V456.4M253.7 444.5V456.4M254.7 446.5V457.8M255.7 446.2V460.3M256.7 445.8V459.0M257.7 446.6V458.3M258.7 447.3V458.2M259.7 447.8V459.5M260.8 448.4V460.4M261.8 448.5V460.2M262.8 447.4V460.9M263.8 447.7V459.1M264.8 448.6V457.9M265.8 448.2V461.3M266.8 449.4V460.7M267.8 448.6V459.3M268.8 449.5V460.0M269.8 447.9V459.4M270.8 450.1V461.9M271.8 448.4V461.5M272.8 451.3V460.9M273.8 449.2V461.2M274.8 449.7V463.0M275.8 451.3V460.5M276.9 451.5V462.6M277.9 451.0V462.1M278.9 451.8V462.8M279.9 451.0V463.9M280.9 452.6V463.0M281.9 452.3V463.2M282.9 452.2V462.9M283.9 453.2V463.6M284.9 451.3V464.7M285.9 453.7V465.0M286.9 452.5V462.1M287.9 453.7V462.5M288.9 452.0V465.5M289.9 452.3V463.3M290.9 453.3V465.0M291.9 452.2V463.2M292.9 453.6V463.3M294.0 453.3V465.8M295.0 451.7V462.5M296.0 452.0V462.3M297.0 454.0V466.3M298.0 451.7V462.7M299.0 455.5V464.0M300.0 454.9V466.5M301.0 455.4V463.6M302.0 453.1V463.7M303.0 455.4V466.6M304.0 455.5V464.4M305.0 453.5V463.9M306.0 453.6V463.8M307.0 456.5V467.5M308.0 453.4V465.1M309.0 457.0V466.3M310.1 454.9V466.2M311.1 456.5V467.8M312.1 455.3V465.1M313.1 454.9V464.6M314.1 454.1V463.6M315.1 454.4V466.4M316.1 456.9V466.6M317.1 455.6V466.4M318.1 454.9V466.8M319.1 456.3V466.8M320.1 456.8V466.4M321.1 456.3V465.3M322.1 456.6V468.5M323.1 453.5V465.5M324.1 457.7V466.2M325.1 455.5V465.7M326.2 455.3V467.1M327.2 458.2V466.3M328.2 455.6V466.6M329.2 457.1V468.9M330.2 456.5V466.8M331.2 458.1V466.8M332.2 455.9V468.9M333.2 456.6V467.9M334.2 455.8V468.3M335.2 455.3V465.8M336.2 455.0V467.9M337.2 456.9V469.1M338.2 456.3V467.1M339.2 457.9V469.7M340.2 458.7V467.0M341.2 457.9V467.3M342.2 456.8V468.6M343.3 457.1V468.0M344.3 456.4V468.6M345.3 456.4V464.9M346.3 457.9V466.5M347.3 456.1V467.7M348.3 456.9V468.5M349.3 456.2V465.4M350.3 458.3V468.6M351.3 456.6V467.6M352.3 456.0V466.0M353.3 459.4V466.7M354.3 458.8V467.6M355.3 458.5V468.1M356.3 458.3V469.5M357.3 457.1V468.0M358.3 458.4V469.4M359.4 456.1V467.6M360.4 457.7V466.9M361.4 458.9V469.0M362.4 457.6V467.8M363.4 459.2V469.1M364.4 457.6V468.8M365.4 456.6V468.4M366.4 458.0V468.2M367.4 457.6V468.5M368.4 458.1V466.8M369.4 457.9V468.0M370.4 459.5V467.2M371.4 458.6V469.3M372.4 458.7V469.6M373.4 459.2V468.5M374.4 458.5V469.0M375.5 459.3V468.6M376.5 459.2V469.6M377.5 459.0V466.4M378.5 460.5V468.2M379.5 457.6V468.9M380.5 459.7V468.4M381.5 459.8V467.9M382.5 460.7V468.5M383.5 458.2V467.4M384.5 459.7V469.4M385.5 458.4V467.8M386.5 459.0V470.0M387.5 458.1V467.4M388.5 457.8V468.4M389.5 459.4V467.0M390.5 458.1V466.7M391.6 460.2V467.5M392.6 458.8V469.1M393.6 457.2V466.2M394.6 460.1V469.3M395.6 457.6V468.6M396.6 459.4V467.0M397.6 458.8V468.8M398.6 458.5V470.0M399.6 460.7V470.7M400.6 459.0V468.6M401.6 459.9V467.7M402.6 460.1V468.8M403.6 459.4V467.9M404.6 459.6V469.8M405.6 459.4V466.1M406.6 460.1V468.5M407.6 461.0V468.0M408.7 460.5V467.2M409.7 458.0V467.6M410.7 461.2V467.9M411.7 459.7V467.7M412.7 459.1V469.1M413.7 460.4V469.8M414.7 460.1V467.2M415.7 459.5V469.0M416.7 459.0V469.2M417.7 459.3V467.6M418.7 461.0V467.8M419.7 459.4V468.8M420.7 459.0V467.3M421.7 459.6V468.1M422.7 460.4V468.1M423.7 458.0V467.2M424.8 461.7V467.9M425.8 460.1V468.2M426.8 459.1V469.3M427.8 461.5V468.4M428.8 461.3V469.8M429.8 459.4V466.8M430.8 460.7V470.2M431.8 459.8V468.9M432.8 460.0V466.9M433.8 462.0V470.1M434.8 459.8V467.1M435.8 461.1V469.3M436.8 459.8V467.4M437.8 461.8V469.6M438.8 459.0V468.3M439.8 460.5V468.6M440.9 459.8V470.4M441.9 462.1V469.9M442.9 461.5V470.4M443.9 460.5V468.1M444.9 459.6V470.0M445.9 459.9V470.4M446.9 459.0V469.7M447.9 459.5V469.5M448.9 461.8V470.2M449.9 460.3V470.2M450.9 461.9V471.3M451.9 459.9V468.5M452.9 459.7V470.2M453.9 460.4V469.2M454.9 461.7V469.4M455.9 461.0V470.1M456.9 461.9V468.7M458.0 461.5V468.3M459.0 462.1V470.7M460.0 461.6V468.4M461.0 459.2V468.4M462.0 463.2V471.3M463.0 462.2V468.5M464.0 463.1V471.1M465.0 459.3V468.8M466.0 461.6V469.5M467.0 462.8V471.5M468.0 460.0V468.6M469.0 462.8V470.4M470.0 463.0V469.9M471.0 460.7V468.9M472.0 461.2V469.9M473.0 463.4V469.7M474.1 462.8V469.6M475.1 460.7V470.6M476.1 462.0V470.4M477.1 460.1V469.9M478.1 462.6V471.2M479.1 461.6V469.5M480.1 462.7V469.9M481.1 463.3V469.5M482.1 462.8V470.0M483.1 462.3V471.5M484.1 461.1V471.7M485.1 462.8V470.9M486.1 464.8V471.3M487.1 463.2V473.1M488.1 462.3V469.9M489.1 464.0V473.8M490.2 464.2V472.8M491.2 464.7V472.4M492.2 462.6V470.2M493.2 464.3V472.0M494.2 463.1V471.1M495.2 462.8V471.6M496.2 465.7V472.3M497.2 464.2V474.1M498.2 465.5V474.6M499.2 463.6V471.0M500.2 464.0V473.3M501.2 465.3V472.1" stroke="#f3cfcf" stroke-width="1.1" fill="none"/>
<path d="M71.6 317.9V323.3M72.6 320.7V325.9M73.6 323.2V328.6M74.6 324.8V332.2M75.6 326.3V333.9M76.6 327.0V338.0M77.6 330.7V341.6M78.6 331.8V342.6M79.6 334.5V345.4M80.7 336.8V348.2M81.7 337.9V353.0M82.7 340.5V351.9M83.7 344.9V357.1M84.7 344.0V362.5M85.7 344.6V360.9M86.7 349.0V363.9M87.7 349.6V367.0M88.7 355.8V367.8M89.7 353.3V372.9M90.7 357.0V372.3M91.7 358.9V374.3M92.7 359.3V376.9M93.7 360.6V379.3M94.7 366.9V378.7M95.7 367.2V383.7M96.8 369.8V385.2M97.8 368.9V384.9M98.8 370.4V384.7M99.8 374.7V388.0M100.8 376.6V390.0M101.8 375.6V393.1M102.8 379.2V391.9M103.8 378.3V396.9M104.8 383.6V397.8M105.8 383.9V397.5M106.8 385.2V399.1M107.8 386.0V402.2M108.8 386.5V400.9M109.8 389.7V403.1M110.8 387.0V407.1M111.8 392.8V406.3M112.9 394.5V408.2M113.9 394.3V406.8M114.9 396.1V412.1M115.9 395.6V411.6M116.9 394.9V410.7M117.9 395.7V412.4M118.9 399.3V415.0M119.9 398.6V416.2M120.9 400.2V415.2M121.9 399.1V415.1M122.9 400.5V416.8M123.9 405.6V418.7M124.9 403.8V421.7M125.9 403.6V421.2M126.9 408.7V422.5M127.9 408.3V422.6M128.9 407.0V425.9M130.0 407.0V426.2M131.0 409.2V425.0M132.0 413.9V427.8M133.0 411.0V426.6M134.0 412.7V430.3M135.0 414.5V430.7M136.0 413.3V429.3M137.0 413.0V428.6M138.0 417.5V432.1M139.0 418.8V434.0M140.0 418.7V436.0M141.0 417.2V434.8M142.0 419.3V434.3M143.0 417.3V436.1M144.0 417.8V433.0M145.0 420.4V437.6M146.1 423.3V436.7M147.1 424.0V438.5M148.1 421.7V437.7M149.1 424.1V440.4M150.1 421.7V441.9M151.1 424.2V442.7M152.1 423.6V439.6M153.1 427.5V445.1M154.1 429.1V443.4M155.1 427.8V442.8M156.1 430.4V441.3M157.1 428.5V442.3M158.1 427.8V443.7M159.1 431.8V447.6M160.1 433.8V449.1M161.1 433.5V446.8M162.2 429.7V446.6M163.2 431.7V446.5M164.2 433.7V445.5M165.2 433.7V451.0M166.2 431.8V449.1M167.2 432.7V451.2M168.2 435.5V449.7M169.2 435.9V449.0M170.2 435.6V451.2M171.2 435.8V452.1M172.2 435.2V450.9M173.2 438.5V455.1M174.2 438.4V451.6M175.2 438.0V453.1M176.2 436.5V452.9M177.2 439.4V454.5M178.3 441.3V454.7M179.3 440.4V456.3M180.3 438.8V452.5M181.3 442.5V454.3M182.3 440.6V458.8M183.3 442.8V456.1M184.3 440.8V457.0M185.3 445.6V456.3M186.3 444.4V458.1M187.3 442.5V460.7M188.3 440.9V457.9M189.3 443.8V458.3M190.3 445.3V457.9M191.3 443.9V460.0M192.3 445.3V461.9M193.3 443.9V461.2M194.3 446.4V459.2M195.4 448.3V462.3M196.4 445.2V461.3M197.4 446.8V461.4M198.4 447.6V463.4M199.4 448.3V463.6M200.4 446.4V460.2M201.4 444.7V463.0M202.4 446.0V462.5M203.4 446.1V460.4M204.4 449.9V464.7M205.4 451.0V463.9M206.4 450.8V465.1M207.4 450.6V465.5M208.4 448.9V464.8M209.4 447.8V462.2M210.4 452.5V467.6M211.5 451.2V466.3M212.5 449.7V462.4M213.5 449.6V466.6M214.5 448.6V463.9M215.5 452.0V464.4M216.5 452.4V468.4M217.5 449.6V467.9M218.5 451.9V468.5M219.5 451.2V465.9M220.5 450.6V469.1M221.5 453.8V465.2M222.5 452.6V466.2M223.5 450.3V466.2M224.5 451.6V466.9M225.5 455.1V466.1M226.5 453.7V467.9M227.6 453.8V469.3M228.6 453.7V468.5M229.6 456.9V467.2M230.6 455.6V468.9M231.6 452.8V470.6M232.6 457.2V467.3M233.6 454.0V470.1M234.6 453.4V467.2M235.6 456.9V472.2M236.6 455.9V471.9M237.6 458.0V471.9M238.6 456.6V468.9M239.6 455.1V468.7M240.6 455.9V470.0M241.6 454.7V471.1M242.6 455.3V470.2M243.6 455.6V468.5M244.7 458.0V472.8M245.7 454.8V469.3M246.7 455.3V471.1M247.7 457.8V469.5M248.7 455.3V470.1M249.7 457.2V469.9M250.7 456.9V472.0M251.7 459.1V472.5M252.7 456.4V470.1M253.7 456.0V470.9M254.7 459.8V474.2M255.7 456.0V473.6M256.7 458.6V472.7M257.7 459.3V471.9M258.7 457.1V471.6M259.7 456.8V471.6M260.8 457.8V473.5M261.8 458.5V475.4M262.8 456.7V473.4M263.8 459.9V474.4M264.8 457.6V471.9M265.8 457.7V474.4M266.8 456.7V473.7M267.8 459.0V474.3M268.8 461.1V476.5M269.8 457.6V474.3M270.8 458.8V473.1M271.8 460.1V473.4M272.8 460.1V474.8M273.8 459.0V474.6M274.8 457.5V473.7M275.8 460.8V476.0M276.9 459.8V473.2M277.9 460.9V475.2M278.9 459.9V475.5M279.9 457.5V473.9M280.9 458.8V476.5M281.9 461.2V474.7M282.9 460.4V475.5M283.9 461.6V477.1M284.9 461.9V473.5M285.9 462.2V474.6M286.9 462.3V474.1M287.9 463.0V474.4M288.9 463.4V474.7M289.9 463.1V475.8M290.9 462.7V474.5M291.9 462.6V473.8M292.9 460.8V475.9M294.0 462.3V477.6M295.0 459.0V474.0M296.0 459.8V476.6M297.0 460.4V475.6M298.0 461.2V478.0M299.0 462.9V477.8M300.0 465.2V477.2M301.0 464.2V474.0M302.0 461.2V476.2M303.0 465.1V477.6M304.0 464.1V476.7M305.0 462.8V476.0M306.0 463.1V476.4M307.0 461.1V475.8M308.0 461.6V477.0M309.0 463.4V475.7M310.1 465.8V476.3M311.1 463.4V478.9M312.1 462.8V476.4M313.1 465.4V478.1M314.1 462.9V477.2M315.1 463.7V477.5M316.1 463.4V478.4M317.1 462.7V477.1M318.1 462.5V474.7M319.1 462.6V479.6M320.1 466.1V479.5M321.1 462.4V478.5M322.1 465.9V476.8M323.1 465.2V477.6M324.1 463.2V480.5M325.1 465.5V480.3M326.2 465.6V479.4M327.2 464.0V479.9M328.2 465.7V480.1M329.2 463.0V479.3M330.2 462.0V477.2M331.2 464.7V476.3M332.2 464.8V478.9M333.2 465.5V478.9M334.2 466.8V480.1M335.2 463.2V476.5M336.2 466.4V478.5M337.2 462.7V476.6M338.2 463.1V477.0M339.2 464.6V480.3M340.2 466.3V477.8M341.2 466.8V477.6M342.2 466.8V478.9M343.3 465.7V479.0M344.3 463.3V478.4M345.3 466.8V480.3M346.3 466.4V479.3M347.3 464.1V479.1M348.3 464.7V477.9M349.3 467.0V477.6M350.3 466.2V480.4M351.3 467.9V478.5M352.3 464.2V478.6M353.3 463.8V478.0M354.3 466.8V480.0M355.3 464.7V480.8M356.3 465.1V479.6M357.3 465.7V478.3M358.3 464.8V478.2M359.4 465.8V481.3M360.4 467.9V480.7M361.4 465.9V477.9M362.4 464.8V478.0M363.4 467.8V480.5M364.4 469.3V481.6M365.4 467.5V479.1M366.4 464.0V478.9M367.4 467.5V481.7M368.4 468.0V478.7M369.4 465.9V480.6M370.4 465.8V478.9M371.4 465.8V479.7M372.4 468.4V481.2M373.4 469.0V482.3M374.4 468.1V479.7M375.5 467.4V477.9M376.5 464.8V479.0M377.5 467.5V481.1M378.5 466.3V481.5M379.5 468.0V480.2M380.5 466.6V478.7M381.5 468.1V479.5M382.5 468.2V479.8M383.5 466.2V479.8M384.5 465.8V483.0M385.5 465.3V480.3M386.5 469.1V482.0M387.5 467.6V480.2M388.5 469.3V480.6M389.5 466.8V478.8M390.5 466.3V481.2M391.6 468.1V481.1M392.6 465.9V480.9M393.6 469.2V482.2M394.6 465.8V480.0M395.6 467.7V481.5M396.6 466.5V478.7M397.6 468.9V478.8M398.6 469.1V480.4M399.6 469.5V480.2M400.6 464.7V478.5M401.6 469.2V478.5M402.6 465.3V479.7M403.6 467.1V480.1M404.6 467.9V482.5M405.6 466.9V479.1M406.6 467.8V481.8M407.6 467.4V481.9M408.7 466.7V482.3M409.7 467.5V483.0M410.7 469.2V481.0M411.7 469.6V482.3M412.7 465.7V482.6M413.7 466.7V481.3M414.7 469.9V480.7M415.7 466.0V480.4M416.7 467.7V480.1M417.7 468.4V480.5M418.7 468.8V478.1M419.7 466.6V481.7M420.7 467.7V479.0M421.7 470.2V481.4M422.7 467.4V481.9M423.7 467.0V481.8M424.8 469.5V483.1M425.8 467.3V480.7M426.8 469.2V481.5M427.8 468.9V483.7M428.8 467.5V483.1M429.8 468.7V481.9M430.8 466.5V479.0M431.8 470.9V482.3M432.8 468.7V482.0M433.8 467.7V482.7M434.8 468.9V482.2M435.8 467.6V481.7M436.8 470.7V483.5M437.8 468.1V482.8M438.8 467.3V481.2M439.8 466.5V480.6M440.9 468.1V481.1M441.9 466.0V481.7M442.9 467.2V481.3M443.9 467.5V481.2M444.9 469.2V481.1M445.9 466.4V482.3M446.9 468.1V481.1M447.9 468.8V481.7M448.9 466.8V479.7M449.9 466.8V478.9M450.9 469.8V482.0M451.9 468.4V479.5M452.9 470.7V481.4M453.9 469.2V482.1M454.9 469.1V481.3M455.9 467.8V482.2M456.9 468.0V481.9M458.0 468.4V482.9M459.0 470.1V481.9M460.0 467.6V482.7M461.0 467.1V483.2M462.0 469.8V484.4M463.0 466.7V479.5M464.0 468.3V481.8M465.0 470.0V482.7M466.0 471.1V484.1M467.0 467.9V483.0M468.0 470.3V479.7M469.0 469.4V481.2M470.0 466.5V481.5M471.0 469.2V483.7M472.0 470.4V480.1M473.0 467.4V481.0M474.1 469.0V480.0M475.1 468.6V481.9M476.1 468.0V481.6M477.1 469.1V481.4M478.1 470.1V480.5M479.1 467.6V482.0M480.1 469.9V482.5M481.1 471.1V481.5M482.1 467.2V479.4M483.1 469.9V482.4M484.1 467.9V481.0M485.1 467.0V479.7M486.1 472.0V483.0M487.1 469.6V483.7M488.1 471.2V483.2M489.1 468.6V483.0M490.2 468.3V482.7M491.2 469.5V480.9M492.2 469.2V482.3M493.2 471.4V481.0M494.2 468.9V480.7M495.2 469.6V481.6M496.2 468.5V481.1M497.2 472.2V484.4M498.2 471.1V483.5M499.2 470.1V480.5M500.2 469.9V481.6M501.2 469.2V483.4" stroke="#d0d0f4" stroke-width="1.1" fill="none"/>
<polygon points="71.6,318.4 73.6,321.2 75.6,321.3 77.6,321.8 79.6,323.9 81.7,324.8 83.7,325.1 85.7,326.5 87.7,327.3 89.7,328.8 91.7,329.2 93.7,330.6 95.7,331.8 97.8,332.3 99.8,334.6 101.8,335.6 103.8,335.5 105.8,337.4 107.8,338.1 109.8,338.2 111.8,340.3 113.9,341.6 115.9,342.0 117.9,343.3 119.9,344.3 121.9,343.5 123.9,345.4 125.9,346.8 127.9,348.1 130.0,347.9 132.0,348.2 134.0,349.7 136.0,350.4 138.0,352.1 140.0,352.8 142.0,354.0 144.0,353.6 146.1,354.3 148.1,354.9 150.1,357.2 152.1,356.7 154.1,358.1 156.1,358.7 158.1,358.8 160.1,360.2 162.2,361.9 164.2,362.5 166.2,363.2 168.2,363.1 170.2,364.7 172.2,364.1 174.2,365.0 176.2,366.1 178.3,367.3 180.3,367.6 182.3,369.1 184.3,368.5 186.3,371.0 188.3,370.7 190.3,371.9 192.3,373.0 194.3,372.0 196.4,373.2 198.4,373.6 200.4,374.7 202.4,374.8 204.4,376.7 206.4,375.9 208.4,377.7 210.4,378.3 212.5,378.0 214.5,379.8 216.5,379.6 218.5,381.5 220.5,380.7 222.5,382.3 224.5,381.3 226.5,383.6 228.6,383.9 230.6,383.5 232.6,384.2 234.6,385.2 236.6,385.6 238.6,385.8 240.6,386.5 242.6,388.0 244.7,387.6 246.7,388.2 248.7,388.3 250.7,388.7 252.7,389.9 254.7,391.2 256.7,391.3 258.7,392.5 260.8,392.3 262.8,392.4 264.8,392.1 266.8,393.9 268.8,393.4 270.8,393.7 272.8,396.0 274.8,396.4 276.9,396.8 278.9,397.2 280.9,397.7 282.9,397.9 284.9,398.1 286.9,397.7 288.9,398.1 290.9,399.7 292.9,400.1 295.0,400.1 297.0,400.1 299.0,400.8 301.0,400.9 303.0,400.8 305.0,403.0 307.0,403.0 309.0,403.9 311.1,403.6 313.1,403.2 315.1,403.4 317.1,404.2 319.1,405.4 321.1,406.3 323.1,406.7 325.1,406.7 327.2,406.1 329.2,407.2 331.2,407.4 333.2,407.0 335.2,409.0 337.2,407.8 339.2,409.0 341.2,409.9 343.3,409.3 345.3,410.7 347.3,410.7 349.3,410.6 351.3,410.0 353.3,411.7 355.3,411.8 357.3,411.5 359.4,411.6 361.4,412.2 363.4,411.9 365.4,412.5 367.4,414.2 369.4,413.1 371.4,414.8 373.4,414.7 375.5,413.8 377.5,414.9 379.5,416.3 381.5,416.1 383.5,416.5 385.5,416.2 387.5,417.1 389.5,417.0 391.6,418.0 393.6,417.8 395.6,417.1 397.6,418.8 399.6,418.7 401.6,419.1 403.6,418.4 405.6,418.7 407.6,418.9 409.7,419.2 411.7,420.4 413.7,420.1 415.7,420.6 417.7,419.7 419.7,419.9 421.7,421.7 423.7,422.1 425.8,421.8 427.8,421.0 429.8,423.1 431.8,422.0 433.8,422.0 435.8,423.7 437.8,422.2 439.8,423.0 441.9,423.0 443.9,423.4 445.9,423.0 447.9,424.8 449.9,424.9 451.9,424.4 453.9,425.6 455.9,425.6 458.0,425.3 460.0,426.2 462.0,425.0 464.0,425.3 466.0,426.0 468.0,427.4 470.0,426.5 472.0,427.4 474.1,426.6 476.1,427.5 478.1,426.7 480.1,427.9 482.1,427.8 484.1,429.0 486.1,428.7 488.1,429.1 490.2,427.8 492.2,429.5 492.2,444.0 490.2,444.3 488.1,444.0 486.1,442.4 484.1,442.6 482.1,442.6 480.1,442.0 478.1,442.0 476.1,441.5 474.1,442.1 472.0,442.7 470.0,441.9 468.0,442.0 466.0,441.9 464.0,441.2 462.0,441.5 460.0,439.6 458.0,440.4 455.9,440.8 453.9,439.7 451.9,440.4 449.9,440.1 447.9,439.7 445.9,439.7 443.9,439.6 441.9,438.5 439.8,437.7 437.8,438.5 435.8,438.6 433.8,436.7 431.8,436.9 429.8,436.3 427.8,436.4 425.8,436.9 423.7,436.3 421.7,436.8 419.7,435.0 417.7,436.6 415.7,434.8 413.7,434.3 411.7,435.7 409.7,435.3 407.6,434.2 405.6,433.9 403.6,432.9 401.6,433.3 399.6,432.6 397.6,432.5 395.6,431.8 393.6,431.6 391.6,433.1 389.5,430.9 387.5,431.7 385.5,431.8 383.5,431.8 381.5,431.4 379.5,430.7 377.5,429.9 375.5,430.2 373.4,428.5 371.4,429.1 369.4,428.8 367.4,427.9 365.4,429.0 363.4,426.9 361.4,428.4 359.4,426.2 357.3,427.0 355.3,426.5 353.3,427.1 351.3,425.4 349.3,425.3 347.3,426.0 345.3,424.2 343.3,425.0 341.2,424.7 339.2,423.6 337.2,423.2 335.2,422.2 333.2,422.2 331.2,421.5 329.2,421.6 327.2,422.3 325.1,421.4 323.1,420.3 321.1,419.4 319.1,420.1 317.1,420.5 315.1,419.7 313.1,418.0 311.1,418.1 309.0,417.7 307.0,417.7 305.0,417.4 303.0,416.3 301.0,416.4 299.0,415.4 297.0,414.6 295.0,415.9 292.9,414.1 290.9,414.0 288.9,414.0 286.9,413.6 284.9,412.4 282.9,412.2 280.9,411.1 278.9,410.8 276.9,410.4 274.8,409.6 272.8,410.5 270.8,410.0 268.8,409.0 266.8,408.5 264.8,408.7 262.8,407.6 260.8,407.7 258.7,406.0 256.7,405.8 254.7,405.4 252.7,405.7 250.7,403.8 248.7,403.6 246.7,402.7 244.7,403.6 242.6,403.0 240.6,401.6 238.6,401.4 236.6,400.2 234.6,399.8 232.6,399.2 230.6,398.9 228.6,399.3 226.5,397.5 224.5,397.1 222.5,397.3 220.5,395.4 218.5,396.3 216.5,394.3 214.5,393.8 212.5,394.2 210.4,392.8 208.4,393.1 206.4,391.8 204.4,390.6 202.4,390.5 200.4,390.0 198.4,388.9 196.4,387.6 194.3,387.3 192.3,387.1 190.3,387.4 188.3,386.3 186.3,385.9 184.3,383.6 182.3,384.5 180.3,382.3 178.3,383.0 176.2,381.0 174.2,381.6 172.2,379.2 170.2,379.9 168.2,377.7 166.2,377.8 164.2,376.5 162.2,375.6 160.1,376.5 158.1,374.4 156.1,373.9 154.1,372.7 152.1,371.5 150.1,372.0 148.1,371.4 146.1,369.6 144.0,368.3 142.0,367.4 140.0,366.6 138.0,366.1 136.0,365.9 134.0,364.9 132.0,364.7 130.0,362.2 127.9,362.6 125.9,362.1 123.9,360.5 121.9,359.3 119.9,358.2 117.9,358.2 115.9,356.3 113.9,356.1 111.8,355.2 109.8,354.0 107.8,353.7 105.8,352.4 103.8,350.1 101.8,349.8 99.8,348.6 97.8,346.6 95.7,345.6 93.7,345.7 91.7,344.4 89.7,342.6 87.7,341.1 85.7,341.2 83.7,338.6 81.7,335.6 79.6,333.5 77.6,330.8 75.6,328.5 73.6,325.8 71.6,323.8" fill="#b2f0ac" opacity="0.8"/>
<polygon points="71.6,319.2 73.6,322.3 75.6,325.7 77.6,329.7 79.6,333.2 81.7,336.8 83.7,340.1 85.7,342.2 87.7,344.9 89.7,349.5 91.7,352.3 93.7,354.2 95.7,358.5 97.8,359.9 99.8,363.8 101.8,364.8 103.8,367.7 105.8,369.8 107.8,373.7 109.8,374.5 111.8,377.5 113.9,379.4 115.9,381.0 117.9,382.9 119.9,385.8 121.9,386.4 123.9,387.5 125.9,390.7 127.9,390.9 130.0,393.7 132.0,394.9 134.0,395.5 136.0,398.4 138.0,398.9 140.0,400.8 142.0,402.2 144.0,401.9 146.1,404.7 148.1,405.8 150.1,405.6 152.1,407.3 154.1,408.2 156.1,409.8 158.1,410.8 160.1,412.5 162.2,412.9 164.2,414.5 166.2,416.1 168.2,416.5 170.2,416.7 172.2,417.7 174.2,419.3 176.2,420.9 178.3,420.5 180.3,422.4 182.3,422.5 184.3,424.8 186.3,424.8 188.3,425.6 190.3,427.7 192.3,428.4 194.3,427.9 196.4,428.9 198.4,429.4 200.4,429.9 202.4,430.8 204.4,431.8 206.4,433.7 208.4,433.0 210.4,434.2 212.5,434.6 214.5,434.9 216.5,436.7 218.5,438.0 220.5,437.4 222.5,437.7 224.5,438.4 226.5,440.0 228.6,440.4 230.6,441.7 232.6,440.9 234.6,442.6 236.6,443.3 238.6,443.7 240.6,442.9 242.6,443.8 244.7,444.1 246.7,444.9 248.7,446.3 250.7,445.1 252.7,445.5 254.7,447.6 256.7,446.9 258.7,447.7 260.8,448.0 262.8,449.1 264.8,448.4 266.8,449.7 268.8,448.5 270.8,449.0 272.8,449.9 274.8,449.8 276.9,450.8 278.9,451.9 280.9,451.5 282.9,451.8 284.9,452.6 286.9,451.8 288.9,452.1 290.9,452.2 292.9,453.7 295.0,453.2 297.0,453.6 299.0,453.0 301.0,454.4 303.0,453.9 305.0,454.6 307.0,455.7 309.0,455.6 311.1,454.1 313.1,455.8 315.1,455.4 317.1,455.0 319.1,455.0 321.1,455.8 323.1,456.7 325.1,455.8 327.2,456.6 329.2,455.6 331.2,456.0 333.2,457.6 335.2,456.3 337.2,457.7 339.2,456.4 341.2,458.1 343.3,456.6 345.3,456.7 347.3,457.2 349.3,458.3 351.3,457.8 353.3,458.8 355.3,458.8 357.3,457.8 359.4,458.2 361.4,459.0 363.4,457.8 365.4,458.7 367.4,457.7 369.4,458.1 371.4,458.1 373.4,458.5 375.5,458.2 377.5,458.8 379.5,459.1 381.5,459.5 383.5,459.6 385.5,459.2 387.5,459.4 389.5,458.2 391.6,459.3 393.6,458.5 395.6,459.2 397.6,459.0 399.6,458.4 401.6,458.9 403.6,459.7 405.6,460.1 407.6,458.8 409.7,460.5 411.7,459.0 413.7,460.2 415.7,458.7 417.7,459.2 419.7,460.1 421.7,460.1 423.7,459.6 425.8,459.0 427.8,459.0 429.8,460.6 431.8,460.7 433.8,460.7 435.8,459.4 437.8,461.2 439.8,460.5 441.9,461.0 443.9,460.1 445.9,460.0 447.9,461.3 449.9,459.9 451.9,460.1 453.9,461.2 455.9,461.2 458.0,460.2 460.0,460.9 462.0,460.6 464.0,461.4 466.0,460.5 468.0,461.2 470.0,461.0 472.0,460.8 474.1,461.7 476.1,462.1 478.1,461.5 480.1,462.6 482.1,462.4 484.1,463.1 486.1,461.8 488.1,463.8 490.2,462.5 492.2,463.0 494.2,462.9 496.2,463.0 498.2,463.7 500.2,464.1 500.2,472.8 498.2,471.0 496.2,471.8 494.2,470.7 492.2,470.6 490.2,472.1 488.1,470.4 486.1,470.6 484.1,471.3 482.1,470.9 480.1,470.0 478.1,469.3 476.1,470.7 474.1,469.1 472.0,469.6 470.0,469.4 468.0,469.5 466.0,468.4 464.0,469.6 462.0,469.9 460.0,469.4 458.0,468.2 455.9,469.1 453.9,469.3 451.9,468.3 449.9,468.7 447.9,469.1 445.9,468.0 443.9,467.6 441.9,468.2 439.8,468.6 437.8,468.8 435.8,468.6 433.8,468.0 431.8,467.2 429.8,468.8 427.8,468.5 425.8,467.4 423.7,468.5 421.7,468.3 419.7,467.8 417.7,468.7 415.7,468.6 413.7,467.1 411.7,466.8 409.7,468.6 407.6,467.5 405.6,468.2 403.6,468.7 401.6,467.1 399.6,467.6 397.6,467.7 395.6,466.7 393.6,467.9 391.6,466.9 389.5,467.9 387.5,468.0 385.5,468.0 383.5,467.9 381.5,467.6 379.5,468.0 377.5,467.9 375.5,468.0 373.4,467.5 371.4,466.8 369.4,468.2 367.4,467.8 365.4,466.8 363.4,467.3 361.4,466.4 359.4,467.0 357.3,467.1 355.3,467.8 353.3,466.9 351.3,467.8 349.3,466.2 347.3,465.9 345.3,467.3 343.3,466.9 341.2,466.9 339.2,467.4 337.2,466.5 335.2,467.2 333.2,466.7 331.2,465.5 329.2,466.8 327.2,466.8 325.1,466.5 323.1,465.8 321.1,464.9 319.1,465.3 317.1,464.6 315.1,464.1 313.1,464.3 311.1,464.9 309.0,464.8 307.0,465.3 305.0,463.4 303.0,464.7 301.0,462.9 299.0,464.2 297.0,463.8 295.0,463.5 292.9,462.6 290.9,463.6 288.9,461.9 286.9,463.0 284.9,462.8 282.9,460.9 280.9,462.0 278.9,461.1 276.9,461.7 274.8,461.6 272.8,460.8 270.8,460.3 268.8,459.1 266.8,459.9 264.8,459.6 262.8,459.4 260.8,458.3 258.7,457.4 256.7,458.0 254.7,456.1 252.7,457.4 250.7,457.3 248.7,456.6 246.7,455.3 244.7,454.4 242.6,453.9 240.6,453.9 238.6,454.0 236.6,452.1 234.6,452.3 232.6,452.0 230.6,450.9 228.6,450.4 226.5,449.5 224.5,450.8 222.5,450.1 220.5,449.6 218.5,447.9 216.5,447.6 214.5,446.1 212.5,446.1 210.4,445.8 208.4,444.2 206.4,444.4 204.4,442.9 202.4,442.8 200.4,441.5 198.4,440.9 196.4,440.5 194.3,440.2 192.3,439.8 190.3,437.1 188.3,437.2 186.3,437.1 184.3,436.1 182.3,435.4 180.3,433.0 178.3,433.0 176.2,432.3 174.2,431.8 172.2,430.6 170.2,430.1 168.2,428.3 166.2,426.6 164.2,425.9 162.2,424.7 160.1,424.6 158.1,422.3 156.1,421.5 154.1,421.2 152.1,419.8 150.1,418.6 148.1,416.9 146.1,416.8 144.0,415.7 142.0,412.8 140.0,412.3 138.0,411.6 136.0,409.0 134.0,408.8 132.0,407.9 130.0,405.3 127.9,404.9 125.9,401.8 123.9,401.4 121.9,399.4 119.9,397.8 117.9,395.3 115.9,394.4 113.9,391.4 111.8,389.8 109.8,387.7 107.8,385.3 105.8,382.9 103.8,380.1 101.8,378.3 99.8,375.6 97.8,373.2 95.7,370.1 93.7,366.5 91.7,364.6 89.7,361.4 87.7,358.8 85.7,354.5 83.7,351.5 81.7,345.8 79.6,342.3 77.6,337.4 75.6,333.2 73.6,329.2 71.6,324.0" fill="#fbb0b8" opacity="0.8"/>
<polygon points="71.6,318.8 73.6,322.6 75.6,327.4 77.6,331.4 79.6,335.7 81.7,340.5 83.7,345.3 85.7,347.7 87.7,352.0 89.7,355.5 91.7,359.9 93.7,363.9 95.7,367.3 97.8,370.5 99.8,374.6 101.8,378.7 103.8,381.9 105.8,383.3 107.8,386.9 109.8,389.5 111.8,392.4 113.9,395.1 115.9,396.2 117.9,398.9 119.9,402.4 121.9,404.2 123.9,406.1 125.9,408.3 127.9,408.6 130.0,412.1 132.0,412.5 134.0,414.8 136.0,415.8 138.0,417.1 140.0,419.7 142.0,421.5 144.0,422.3 146.1,424.0 148.1,424.5 150.1,426.3 152.1,426.5 154.1,429.3 156.1,429.6 158.1,431.3 160.1,432.1 162.2,433.9 164.2,433.8 166.2,434.9 168.2,436.2 170.2,437.7 172.2,438.1 174.2,438.5 176.2,440.2 178.3,440.8 180.3,441.3 182.3,443.6 184.3,442.6 186.3,444.5 188.3,444.7 190.3,446.1 192.3,446.5 194.3,447.3 196.4,448.0 198.4,448.8 200.4,449.5 202.4,450.2 204.4,449.8 206.4,450.0 208.4,451.6 210.4,451.5 212.5,452.6 214.5,451.6 216.5,452.3 218.5,453.1 220.5,454.4 222.5,453.7 224.5,454.5 226.5,454.9 228.6,455.3 230.6,454.7 232.6,455.6 234.6,455.5 236.6,456.2 238.6,457.0 240.6,457.8 242.6,457.4 244.7,457.1 246.7,457.9 248.7,457.7 250.7,457.7 252.7,457.9 254.7,457.9 256.7,458.6 258.7,459.4 260.8,458.9 262.8,459.1 264.8,461.1 266.8,459.6 268.8,461.2 270.8,460.5 272.8,460.4 274.8,461.0 276.9,461.1 278.9,462.1 280.9,461.3 282.9,462.9 284.9,463.1 286.9,463.3 288.9,463.2 290.9,463.5 292.9,463.0 295.0,463.9 297.0,464.3 299.0,462.7 301.0,462.9 303.0,463.9 305.0,463.2 307.0,464.0 309.0,464.9 311.1,464.5 313.1,464.0 315.1,464.9 317.1,464.8 319.1,464.6 321.1,465.3 323.1,464.6 325.1,465.0 327.2,464.9 329.2,465.2 331.2,466.3 333.2,465.3 335.2,465.6 337.2,466.8 339.2,466.9 341.2,467.1 343.3,467.2 345.3,466.2 347.3,466.0 349.3,466.0 351.3,465.9 353.3,467.9 355.3,467.1 357.3,467.3 359.4,467.2 361.4,467.2 363.4,468.1 365.4,467.5 367.4,467.2 369.4,467.1 371.4,467.9 373.4,467.1 375.5,467.1 377.5,467.1 379.5,468.2 381.5,468.4 383.5,468.0 385.5,467.6 387.5,467.7 389.5,467.7 391.6,468.5 393.6,468.9 395.6,469.2 397.6,469.0 399.6,468.4 401.6,469.1 403.6,469.5 405.6,468.6 407.6,468.5 409.7,469.5 411.7,469.7 413.7,468.4 415.7,469.7 417.7,469.3 419.7,470.1 421.7,468.9 423.7,470.2 425.8,469.4 427.8,469.4 429.8,469.4 431.8,470.0 433.8,470.0 435.8,470.3 437.8,468.6 439.8,468.8 441.9,468.7 443.9,469.9 445.9,469.1 447.9,469.6 449.9,470.0 451.9,470.3 453.9,469.2 455.9,469.9 458.0,469.8 460.0,469.4 462.0,469.1 464.0,470.6 466.0,469.4 468.0,470.0 470.0,470.1 472.0,469.3 474.1,469.2 476.1,469.5 478.1,469.5 480.1,469.5 482.1,470.1 484.1,470.7 486.1,470.0 488.1,469.7 490.2,469.7 492.2,470.5 494.2,471.2 496.2,470.1 498.2,470.0 500.2,470.6 500.2,481.1 498.2,479.9 496.2,480.1 494.2,481.3 492.2,479.7 490.2,480.4 488.1,480.2 486.1,480.8 484.1,480.4 482.1,480.9 480.1,481.1 478.1,480.8 476.1,479.2 474.1,480.4 472.0,479.7 470.0,479.8 468.0,480.1 466.0,479.7 464.0,479.3 462.0,480.7 460.0,479.9 458.0,479.6 455.9,480.5 453.9,479.4 451.9,480.1 449.9,478.8 447.9,480.3 445.9,480.0 443.9,480.0 441.9,480.1 439.8,480.2 437.8,479.1 435.8,478.5 433.8,480.3 431.8,478.9 429.8,479.8 427.8,480.3 425.8,479.1 423.7,479.8 421.7,479.2 419.7,479.9 417.7,480.2 415.7,479.7 413.7,480.0 411.7,478.3 409.7,478.9 407.6,479.8 405.6,478.3 403.6,477.9 401.6,479.0 399.6,477.9 397.6,478.2 395.6,479.4 393.6,479.6 391.6,478.0 389.5,479.5 387.5,478.5 385.5,479.5 383.5,479.2 381.5,477.6 379.5,478.8 377.5,478.8 375.5,477.4 373.4,477.8 371.4,477.9 369.4,477.9 367.4,478.3 365.4,477.7 363.4,477.1 361.4,477.4 359.4,476.9 357.3,478.3 355.3,476.9 353.3,477.2 351.3,477.0 349.3,477.2 347.3,477.3 345.3,477.5 343.3,476.0 341.2,476.7 339.2,476.7 337.2,476.8 335.2,476.9 333.2,477.3 331.2,476.9 329.2,476.7 327.2,476.6 325.1,476.9 323.1,475.3 321.1,476.5 319.1,476.4 317.1,476.5 315.1,475.7 313.1,475.3 311.1,475.1 309.0,474.9 307.0,475.8 305.0,475.6 303.0,474.3 301.0,474.2 299.0,473.8 297.0,473.2 295.0,473.4 292.9,473.0 290.9,474.4 288.9,473.1 286.9,473.1 284.9,473.8 282.9,473.6 280.9,472.4 278.9,472.1 276.9,472.0 274.8,471.7 272.8,472.0 270.8,471.4 268.8,472.2 266.8,471.0 264.8,470.9 262.8,470.5 260.8,470.6 258.7,470.3 256.7,469.9 254.7,469.3 252.7,470.1 250.7,468.5 248.7,469.2 246.7,469.7 244.7,467.8 242.6,468.2 240.6,467.6 238.6,468.7 236.6,467.9 234.6,466.5 232.6,467.8 230.6,467.2 228.6,465.8 226.5,466.8 224.5,466.5 222.5,465.3 220.5,464.1 218.5,463.6 216.5,464.8 214.5,464.2 212.5,463.9 210.4,463.1 208.4,462.0 206.4,461.4 204.4,461.6 202.4,460.8 200.4,460.0 198.4,460.1 196.4,458.7 194.3,457.3 192.3,457.3 190.3,456.1 188.3,455.8 186.3,454.8 184.3,455.6 182.3,454.2 180.3,452.4 178.3,452.2 176.2,452.5 174.2,451.5 172.2,450.5 170.2,449.7 168.2,448.3 166.2,447.1 164.2,445.5 162.2,444.3 160.1,442.9 158.1,443.1 156.1,441.9 154.1,440.1 152.1,439.0 150.1,438.4 148.1,436.1 146.1,435.7 144.0,433.6 142.0,432.6 140.0,430.5 138.0,429.3 136.0,427.3 134.0,425.3 132.0,425.2 130.0,423.3 127.9,420.5 125.9,420.1 123.9,417.0 121.9,414.9 119.9,413.4 117.9,410.2 115.9,407.9 113.9,406.9 111.8,403.4 109.8,401.7 107.8,399.1 105.8,396.6 103.8,393.4 101.8,389.2 99.8,386.6 97.8,383.5 95.7,380.3 93.7,376.1 91.7,371.4 89.7,367.6 87.7,363.5 85.7,360.7 83.7,355.6 81.7,349.6 79.6,344.1 77.6,339.0 75.6,333.8 73.6,327.7 71.6,322.6" fill="#b4b4f8" opacity="0.8"/>
<polyline points="71.6,321.3 73.6,323.8 75.6,326.0 77.6,327.5 79.6,327.9 81.7,330.1 83.7,330.2 85.7,332.9 87.7,334.3 89.7,334.9 91.7,336.7 93.7,339.5 95.7,339.5 97.8,340.9 99.8,340.8 101.8,342.8 103.8,343.4 105.8,344.2 107.8,343.5 109.8,347.5 111.8,346.7 113.9,348.4 115.9,348.7 117.9,350.2 119.9,350.0 121.9,352.0 123.9,352.9 125.9,352.7 127.9,356.0 130.0,355.6 132.0,357.0 134.0,357.0 136.0,357.9 138.0,359.6 140.0,361.0 142.0,361.3 144.0,361.7 146.1,363.0 148.1,362.4 150.1,363.5 152.1,365.7 154.1,367.7 156.1,365.9 158.1,367.4 160.1,368.8 162.2,367.9 164.2,370.0 166.2,371.8 168.2,371.0 170.2,371.0 172.2,372.4 174.2,374.0 176.2,374.6 178.3,374.6 180.3,375.1 182.3,376.0 184.3,377.2 186.3,378.0 188.3,377.9 190.3,378.9 192.3,380.0 194.3,380.3 196.4,380.6 198.4,379.8 200.4,383.1 202.4,382.2 204.4,384.6 206.4,383.5 208.4,384.3 210.4,385.4 212.5,386.1 214.5,387.6 216.5,387.8 218.5,387.7 220.5,389.2 222.5,388.9 224.5,390.3 226.5,390.1 228.6,389.6 230.6,389.7 232.6,391.2 234.6,394.3 236.6,392.2 238.6,392.8 240.6,395.3 242.6,395.0 244.7,394.8 246.7,396.1 248.7,396.9 250.7,396.7 252.7,398.3 254.7,398.7 256.7,398.1 258.7,400.4 260.8,400.3 262.8,399.8 264.8,401.4 266.8,400.9 268.8,401.9 270.8,402.2 272.8,402.7 274.8,402.2 276.9,403.4 278.9,404.0 280.9,405.5 282.9,405.4 284.9,405.5 286.9,405.8 288.9,405.8 290.9,406.6 292.9,407.3 295.0,407.9 297.0,409.0 299.0,408.9 301.0,407.5 303.0,409.4 305.0,409.3 307.0,409.9 309.0,410.6 311.1,411.5 313.1,412.8 315.1,411.9 317.1,410.5 319.1,412.8 321.1,412.0 323.1,413.5 325.1,413.2 327.2,413.3 329.2,414.2 331.2,413.2 333.2,414.7 335.2,413.8 337.2,416.7 339.2,416.2 341.2,416.1 343.3,416.7 345.3,416.5 347.3,417.3 349.3,418.5 351.3,418.2 353.3,418.1 355.3,418.5 357.3,420.4 359.4,419.6 361.4,420.2 363.4,421.5 365.4,420.8 367.4,420.6 369.4,422.1 371.4,420.5 373.4,421.0 375.5,421.7 377.5,421.1 379.5,423.0 381.5,422.9 383.5,422.6 385.5,424.2 387.5,424.0 389.5,425.4 391.6,423.8 393.6,425.2 395.6,425.4 397.6,426.7 399.6,426.3 401.6,425.3 403.6,427.5 405.6,427.2 407.6,425.6 409.7,427.5 411.7,427.5 413.7,428.1 415.7,428.1 417.7,427.9 419.7,430.0 421.7,429.3 423.7,430.6 425.8,430.3 427.8,428.4 429.8,430.5 431.8,430.5 433.8,430.6 435.8,429.8 437.8,430.2 439.8,430.1 441.9,430.9 443.9,432.5 445.9,431.0 447.9,431.9 449.9,431.5 451.9,432.8 453.9,432.8 455.9,433.1 458.0,431.9 460.0,434.1 462.0,433.2 464.0,433.8 466.0,432.9 468.0,435.2 470.0,433.5 472.0,433.3 474.1,435.5 476.1,433.1 478.1,434.4 480.1,434.9 482.1,435.2 484.1,435.6 486.1,436.0 488.1,434.6 490.2,437.4 492.2,435.6" fill="none" stroke="#2a8f24" stroke-width="1.5" opacity="0.8"/>
<polyline points="71.6,321.5 74.6,324.5 77.6,327.2 80.7,329.6 83.7,331.7 86.7,333.7 89.7,335.5 92.7,337.3 95.7,339.0 98.8,340.6 101.8,342.2 104.8,343.7 107.8,345.3 110.8,346.7 113.9,348.2 116.9,349.6 119.9,351.0 122.9,352.4 125.9,353.8 128.9,355.1 132.0,356.4 135.0,357.8 138.0,359.0 141.0,360.3 144.0,361.6 147.1,362.8 150.1,364.1 153.1,365.3 156.1,366.5 159.1,367.6 162.2,368.8 165.2,369.9 168.2,371.1 171.2,372.2 174.2,373.3 177.2,374.4 180.3,375.5 183.3,376.5 186.3,377.6 189.3,378.6 192.3,379.6 195.4,380.6 198.4,381.6 201.4,382.6 204.4,383.6 207.4,384.6 210.4,385.5 213.5,386.4 216.5,387.4 219.5,388.3 222.5,389.2 225.5,390.0 228.6,390.9 231.6,391.8 234.6,392.6 237.6,393.5 240.6,394.3 243.6,395.1 246.7,395.9 249.7,396.7 252.7,397.5 255.7,398.3 258.7,399.1 261.8,399.8 264.8,400.6 267.8,401.3 270.8,402.0 273.8,402.8 276.9,403.5 279.9,404.2 282.9,404.9 285.9,405.5 288.9,406.2 291.9,406.9 295.0,407.5 298.0,408.2 301.0,408.8 304.0,409.5 307.0,410.1 310.1,410.7 313.1,411.3 316.1,411.9 319.1,412.5 322.1,413.1 325.1,413.7 328.2,414.2 331.2,414.8 334.2,415.3 337.2,415.9 340.2,416.4 343.3,417.0 346.3,417.5 349.3,418.0 352.3,418.5 355.3,419.0 358.3,419.5 361.4,420.0 364.4,420.5 367.4,421.0 370.4,421.5 373.4,421.9 376.5,422.4 379.5,422.9 382.5,423.3 385.5,423.7 388.5,424.2 391.6,424.6 394.6,425.0 397.6,425.5 400.6,425.9 403.6,426.3 406.6,426.7 409.7,427.1 412.7,427.5 415.7,427.9 418.7,428.3 421.7,428.7 424.8,429.0 427.8,429.4 430.8,429.8 433.8,430.1 436.8,430.5 439.8,430.8 442.9,431.2 445.9,431.5 448.9,431.9 451.9,432.2 454.9,432.5 458.0,432.9 461.0,433.2 464.0,433.5 467.0,433.8 470.0,434.1 473.0,434.4 476.1,434.7 479.1,435.0 482.1,435.3 485.1,435.6 488.1,435.9 491.2,436.2" fill="none" stroke="#2a8f24" stroke-width="1.7"/>
<polyline points="71.6,322.0 73.6,325.0 75.6,328.0 77.6,333.2 79.6,339.1 81.7,340.4 83.7,344.5 85.7,349.5 87.7,350.7 89.7,354.6 91.7,358.1 93.7,361.9 95.7,363.4 97.8,367.6 99.8,369.5 101.8,371.3 103.8,375.5 105.8,377.5 107.8,379.2 109.8,381.7 111.8,383.1 113.9,384.8 115.9,387.7 117.9,388.7 119.9,391.1 121.9,393.6 123.9,394.7 125.9,397.4 127.9,396.2 130.0,397.6 132.0,400.2 134.0,402.0 136.0,403.0 138.0,405.3 140.0,406.9 142.0,407.2 144.0,408.2 146.1,410.0 148.1,411.9 150.1,411.5 152.1,414.7 154.1,416.3 156.1,414.8 158.1,417.6 160.1,419.2 162.2,419.3 164.2,419.2 166.2,422.1 168.2,423.0 170.2,423.2 172.2,424.8 174.2,424.0 176.2,426.4 178.3,427.2 180.3,428.4 182.3,427.7 184.3,430.3 186.3,430.4 188.3,430.8 190.3,433.1 192.3,434.2 194.3,435.3 196.4,434.6 198.4,435.6 200.4,435.9 202.4,437.8 204.4,438.3 206.4,439.0 208.4,437.6 210.4,439.8 212.5,442.4 214.5,442.1 216.5,441.3 218.5,442.4 220.5,443.4 222.5,443.5 224.5,443.3 226.5,444.5 228.6,445.5 230.6,445.7 232.6,447.0 234.6,447.5 236.6,448.1 238.6,449.9 240.6,448.9 242.6,449.0 244.7,451.3 246.7,449.4 248.7,450.4 250.7,452.1 252.7,451.9 254.7,451.9 256.7,451.5 258.7,453.5 260.8,451.7 262.8,454.2 264.8,453.0 266.8,454.9 268.8,454.3 270.8,455.2 272.8,455.0 274.8,455.4 276.9,455.9 278.9,455.2 280.9,456.5 282.9,456.2 284.9,457.5 286.9,456.4 288.9,458.5 290.9,457.6 292.9,457.7 295.0,459.8 297.0,458.2 299.0,459.5 301.0,459.3 303.0,460.0 305.0,458.1 307.0,458.9 309.0,459.4 311.1,460.6 313.1,460.2 315.1,459.9 317.1,461.1 319.1,460.2 321.1,461.1 323.1,460.6 325.1,461.9 327.2,462.2 329.2,460.6 331.2,461.5 333.2,461.1 335.2,461.0 337.2,460.3 339.2,462.0 341.2,461.7 343.3,462.4 345.3,461.1 347.3,462.0 349.3,462.0 351.3,459.9 353.3,462.6 355.3,462.3 357.3,461.8 359.4,462.6 361.4,461.8 363.4,460.8 365.4,463.3 367.4,463.2 369.4,463.1 371.4,463.7 373.4,462.3 375.5,464.5 377.5,462.7 379.5,461.6 381.5,462.0 383.5,462.5 385.5,461.5 387.5,462.8 389.5,464.7 391.6,463.3 393.6,463.0 395.6,463.4 397.6,462.9 399.6,464.0 401.6,463.4 403.6,463.5 405.6,463.1 407.6,464.7 409.7,463.9 411.7,464.7 413.7,464.2 415.7,463.4 417.7,463.5 419.7,465.0 421.7,463.4 423.7,464.4 425.8,464.4 427.8,465.7 429.8,464.1 431.8,465.0 433.8,464.9 435.8,465.1 437.8,464.5 439.8,465.4 441.9,464.7 443.9,462.3 445.9,464.3 447.9,464.2 449.9,464.0 451.9,464.8 453.9,464.8 455.9,464.3 458.0,462.8 460.0,463.8 462.0,465.5 464.0,465.4 466.0,465.6 468.0,465.9 470.0,464.8 472.0,466.4 474.1,466.5 476.1,467.5 478.1,465.9 480.1,467.9 482.1,465.8 484.1,465.4 486.1,467.1 488.1,466.0 490.2,466.5 492.2,467.3 494.2,467.9 496.2,466.9 498.2,468.2 500.2,468.5" fill="none" stroke="#bb3a26" stroke-width="1.5" opacity="0.8"/>
<polyline points="71.6,321.5 74.6,327.8 77.6,333.8 80.7,339.5 83.7,344.9 86.7,350.0 89.7,354.9 92.7,359.5 95.7,363.9 98.8,368.0 101.8,371.9 104.8,375.6 107.8,379.1 110.8,382.4 113.9,385.5 116.9,388.4 119.9,391.2 122.9,393.8 125.9,396.3 128.9,398.6 132.0,400.9 135.0,403.0 138.0,405.1 141.0,407.0 144.0,408.9 147.1,410.7 150.1,412.5 153.1,414.2 156.1,415.9 159.1,417.6 162.2,419.2 165.2,420.7 168.2,422.3 171.2,423.8 174.2,425.2 177.2,426.6 180.3,428.0 183.3,429.4 186.3,430.7 189.3,432.0 192.3,433.2 195.4,434.4 198.4,435.6 201.4,436.7 204.4,437.8 207.4,438.9 210.4,439.9 213.5,440.9 216.5,441.9 219.5,442.9 222.5,443.8 225.5,444.7 228.6,445.5 231.6,446.4 234.6,447.2 237.6,448.0 240.6,448.7 243.6,449.5 246.7,450.2 249.7,450.8 252.7,451.5 255.7,452.1 258.7,452.7 261.8,453.3 264.8,453.9 267.8,454.4 270.8,454.9 273.8,455.4 276.9,455.9 279.9,456.3 282.9,456.8 285.9,457.2 288.9,457.6 291.9,457.9 295.0,458.3 298.0,458.6 301.0,459.0 304.0,459.3 307.0,459.6 310.1,459.8 313.1,460.1 316.1,460.3 319.1,460.6 322.1,460.8 325.1,461.0 328.2,461.2 331.2,461.4 334.2,461.6 337.2,461.7 340.2,461.9 343.3,462.0 346.3,462.1 349.3,462.3 352.3,462.4 355.3,462.5 358.3,462.6 361.4,462.7 364.4,462.8 367.4,462.8 370.4,462.9 373.4,463.0 376.5,463.0 379.5,463.1 382.5,463.2 385.5,463.2 388.5,463.3 391.6,463.3 394.6,463.4 397.6,463.4 400.6,463.5 403.6,463.5 406.6,463.6 409.7,463.6 412.7,463.7 415.7,463.7 418.7,463.8 421.7,463.8 424.8,463.9 427.8,464.0 430.8,464.0 433.8,464.1 436.8,464.2 439.8,464.3 442.9,464.4 445.9,464.5 448.9,464.6 451.9,464.7 454.9,464.8 458.0,465.0 461.0,465.1 464.0,465.3 467.0,465.4 470.0,465.6 473.0,465.8 476.1,466.0 479.1,466.2 482.1,466.4 485.1,466.7 488.1,466.9 491.2,467.2 494.2,467.4 497.2,467.7 500.2,468.1" fill="none" stroke="#bb3a26" stroke-width="1.7"/>
<polyline points="71.6,320.0 73.6,325.1 75.6,330.2 77.6,337.2 79.6,340.4 81.7,344.9 83.7,350.3 85.7,352.9 87.7,358.9 89.7,364.4 91.7,366.8 93.7,370.9 95.7,373.9 97.8,376.9 99.8,380.6 101.8,383.4 103.8,386.7 105.8,390.5 107.8,392.9 109.8,395.5 111.8,400.2 113.9,400.2 115.9,403.3 117.9,405.2 119.9,407.1 121.9,409.4 123.9,411.7 125.9,412.6 127.9,415.9 130.0,417.0 132.0,417.8 134.0,421.1 136.0,422.5 138.0,422.4 140.0,425.8 142.0,426.7 144.0,427.8 146.1,429.6 148.1,430.6 150.1,432.7 152.1,434.6 154.1,434.0 156.1,435.7 158.1,436.9 160.1,439.3 162.2,439.2 164.2,439.7 166.2,441.5 168.2,441.8 170.2,442.5 172.2,444.4 174.2,445.1 176.2,445.3 178.3,447.6 180.3,447.7 182.3,448.7 184.3,449.2 186.3,450.1 188.3,450.8 190.3,450.1 192.3,450.4 194.3,453.1 196.4,455.2 198.4,454.9 200.4,454.1 202.4,453.3 204.4,455.5 206.4,457.7 208.4,457.4 210.4,457.8 212.5,458.4 214.5,458.3 216.5,458.7 218.5,460.0 220.5,458.8 222.5,459.7 224.5,459.2 226.5,460.0 228.6,461.2 230.6,460.4 232.6,460.9 234.6,461.8 236.6,463.3 238.6,464.8 240.6,462.8 242.6,462.7 244.7,462.3 246.7,463.0 248.7,464.2 250.7,465.0 252.7,464.0 254.7,464.0 256.7,464.3 258.7,465.3 260.8,466.0 262.8,466.4 264.8,465.9 266.8,465.8 268.8,464.2 270.8,465.2 272.8,466.3 274.8,465.7 276.9,466.9 278.9,467.8 280.9,468.4 282.9,468.1 284.9,466.9 286.9,467.0 288.9,467.6 290.9,468.3 292.9,468.6 295.0,467.9 297.0,468.3 299.0,468.9 301.0,468.2 303.0,469.6 305.0,469.1 307.0,469.0 309.0,470.1 311.1,470.0 313.1,469.6 315.1,470.3 317.1,470.7 319.1,471.0 321.1,471.0 323.1,470.5 325.1,471.2 327.2,469.5 329.2,470.5 331.2,471.6 333.2,470.3 335.2,470.6 337.2,470.5 339.2,470.6 341.2,472.0 343.3,472.2 345.3,472.0 347.3,471.9 349.3,472.0 351.3,473.1 353.3,472.1 355.3,470.9 357.3,473.1 359.4,472.1 361.4,472.0 363.4,472.6 365.4,473.4 367.4,473.2 369.4,472.9 371.4,473.8 373.4,473.0 375.5,473.4 377.5,474.7 379.5,473.0 381.5,473.5 383.5,473.0 385.5,472.5 387.5,473.3 389.5,472.8 391.6,475.5 393.6,474.4 395.6,473.4 397.6,474.1 399.6,474.2 401.6,473.2 403.6,473.5 405.6,473.6 407.6,473.7 409.7,472.6 411.7,474.6 413.7,474.2 415.7,473.6 417.7,474.3 419.7,473.3 421.7,473.9 423.7,475.8 425.8,473.9 427.8,475.2 429.8,474.5 431.8,474.0 433.8,474.4 435.8,474.3 437.8,474.7 439.8,474.8 441.9,474.7 443.9,475.2 445.9,474.4 447.9,474.8 449.9,474.7 451.9,474.9 453.9,474.4 455.9,474.7 458.0,475.7 460.0,474.6 462.0,473.8 464.0,474.9 466.0,474.0 468.0,472.8 470.0,475.0 472.0,475.4 474.1,474.8 476.1,474.9 478.1,473.9 480.1,474.7 482.1,475.4 484.1,476.2 486.1,475.0 488.1,475.9 490.2,474.3 492.2,475.3 494.2,475.1 496.2,475.7 498.2,476.1 500.2,475.4" fill="none" stroke="#2020d4" stroke-width="1.5" opacity="0.8"/>
<polyline points="71.6,319.9 74.6,327.9 77.6,335.6 80.7,342.8 83.7,349.7 86.7,356.3 89.7,362.4 92.7,368.3 95.7,373.8 98.8,379.0 101.8,383.8 104.8,388.4 107.8,392.7 110.8,396.7 113.9,400.5 116.9,404.0 119.9,407.3 122.9,410.4 125.9,413.3 128.9,416.1 132.0,418.7 135.0,421.2 138.0,423.5 141.0,425.8 144.0,427.9 147.1,430.0 150.1,432.0 153.1,433.9 156.1,435.7 159.1,437.4 162.2,439.1 165.2,440.7 168.2,442.2 171.2,443.6 174.2,445.0 177.2,446.3 180.3,447.6 183.3,448.8 186.3,449.9 189.3,451.0 192.3,452.0 195.4,452.9 198.4,453.8 201.4,454.7 204.4,455.5 207.4,456.3 210.4,457.0 213.5,457.7 216.5,458.4 219.5,459.0 222.5,459.6 225.5,460.1 228.6,460.7 231.6,461.2 234.6,461.6 237.6,462.1 240.6,462.5 243.6,463.0 246.7,463.4 249.7,463.8 252.7,464.2 255.7,464.5 258.7,464.9 261.8,465.2 264.8,465.6 267.8,465.9 270.8,466.3 273.8,466.6 276.9,466.9 279.9,467.2 282.9,467.5 285.9,467.8 288.9,468.0 291.9,468.3 295.0,468.6 298.0,468.8 301.0,469.1 304.0,469.3 307.0,469.5 310.1,469.8 313.1,470.0 316.1,470.2 319.1,470.4 322.1,470.6 325.1,470.8 328.2,470.9 331.2,471.1 334.2,471.3 337.2,471.4 340.2,471.6 343.3,471.8 346.3,471.9 349.3,472.0 352.3,472.2 355.3,472.3 358.3,472.4 361.4,472.6 364.4,472.7 367.4,472.8 370.4,472.9 373.4,473.0 376.5,473.1 379.5,473.2 382.5,473.3 385.5,473.4 388.5,473.5 391.6,473.5 394.6,473.6 397.6,473.7 400.6,473.8 403.6,473.8 406.6,473.9 409.7,474.0 412.7,474.0 415.7,474.1 418.7,474.2 421.7,474.2 424.8,474.3 427.8,474.3 430.8,474.4 433.8,474.4 436.8,474.5 439.8,474.5 442.9,474.6 445.9,474.6 448.9,474.7 451.9,474.7 454.9,474.8 458.0,474.8 461.0,474.8 464.0,474.9 467.0,474.9 470.0,475.0 473.0,475.0 476.1,475.1 479.1,475.1 482.1,475.2 485.1,475.2 488.1,475.3 491.2,475.4 494.2,475.4 497.2,475.5 500.2,475.5" fill="none" stroke="#2020d4" stroke-width="1.7"/>
<line x1="71.6" y1="304.5" x2="71.6" y2="490.4" stroke="#000" stroke-width="2"/>
<line x1="70.6" y1="489.4" x2="504" y2="489.4" stroke="#000" stroke-width="2"/>
<line x1="67.5" y1="304.8" x2="71.6" y2="304.8" stroke="#000" stroke-width="1.5"/>
<line x1="64.6" y1="489.4" x2="71.6" y2="489.4" stroke="#000" stroke-width="1.8"/>
<line x1="67.6" y1="472.6" x2="71.6" y2="472.6" stroke="#000" stroke-width="1.5"/>
<line x1="67.6" y1="455.8" x2="71.6" y2="455.8" stroke="#000" stroke-width="1.5"/>
<line x1="67.6" y1="439.0" x2="71.6" y2="439.0" stroke="#000" stroke-width="1.5"/>
<line x1="67.6" y1="422.2" x2="71.6" y2="422.2" stroke="#000" stroke-width="1.5"/>
<line x1="64.6" y1="405.4" x2="71.6" y2="405.4" stroke="#000" stroke-width="1.8"/>
<line x1="67.6" y1="388.7" x2="71.6" y2="388.7" stroke="#000" stroke-width="1.5"/>
<line x1="67.6" y1="371.9" x2="71.6" y2="371.9" stroke="#000" stroke-width="1.5"/>
<line x1="67.6" y1="355.1" x2="71.6" y2="355.1" stroke="#000" stroke-width="1.5"/>
<line x1="67.6" y1="338.3" x2="71.6" y2="338.3" stroke="#000" stroke-width="1.5"/>
<line x1="64.6" y1="321.5" x2="71.6" y2="321.5" stroke="#000" stroke-width="1.8"/>
<text x="62.5" y="493.3" text-anchor="end" font-size="11.5" font-weight="bold">0.0</text>
<text x="62.5" y="409.3" text-anchor="end" font-size="11.5" font-weight="bold">0.5</text>
<text x="62.5" y="325.4" text-anchor="end" font-size="11.5" font-weight="bold">1.0</text>
<line x1="71.6" y1="489.4" x2="71.6" y2="493.5" stroke="#000" stroke-width="1.8"/>
<line x1="86.0" y1="489.4" x2="86.0" y2="492" stroke="#000" stroke-width="1.5"/>
<line x1="100.3" y1="489.4" x2="100.3" y2="492" stroke="#000" stroke-width="1.5"/>
<line x1="114.7" y1="489.4" x2="114.7" y2="492" stroke="#000" stroke-width="1.5"/>
<line x1="129.1" y1="489.4" x2="129.1" y2="492" stroke="#000" stroke-width="1.5"/>
<line x1="143.5" y1="489.4" x2="143.5" y2="492" stroke="#000" stroke-width="1.5"/>
<line x1="157.8" y1="489.4" x2="157.8" y2="492" stroke="#000" stroke-width="1.5"/>
<line x1="172.2" y1="489.4" x2="172.2" y2="492" stroke="#000" stroke-width="1.5"/>
<line x1="186.6" y1="489.4" x2="186.6" y2="492" stroke="#000" stroke-width="1.5"/>
<line x1="201.0" y1="489.4" x2="201.0" y2="492" stroke="#000" stroke-width="1.5"/>
<line x1="215.3" y1="489.4" x2="215.3" y2="493.5" stroke="#000" stroke-width="1.8"/>
<line x1="229.7" y1="489.4" x2="229.7" y2="492" stroke="#000" stroke-width="1.5"/>
<line x1="244.1" y1="489.4" x2="244.1" y2="492" stroke="#000" stroke-width="1.5"/>
<line x1="258.5" y1="489.4" x2="258.5" y2="492" stroke="#000" stroke-width="1.5"/>
<line x1="272.8" y1="489.4" x2="272.8" y2="492" stroke="#000" stroke-width="1.5"/>
<line x1="287.2" y1="489.4" x2="287.2" y2="492" stroke="#000" stroke-width="1.5"/>
<line x1="301.6" y1="489.4" x2="301.6" y2="492" stroke="#000" stroke-width="1.5"/>
<line x1="315.9" y1="489.4" x2="315.9" y2="492" stroke="#000" stroke-width="1.5"/>
<line x1="330.3" y1="489.4" x2="330.3" y2="492" stroke="#000" stroke-width="1.5"/>
<line x1="344.7" y1="489.4" x2="344.7" y2="492" stroke="#000" stroke-width="1.5"/>
<line x1="359.1" y1="489.4" x2="359.1" y2="493.5" stroke="#000" stroke-width="1.8"/>
<line x1="373.4" y1="489.4" x2="373.4" y2="492" stroke="#000" stroke-width="1.5"/>
<line x1="387.8" y1="489.4" x2="387.8" y2="492" stroke="#000" stroke-width="1.5"/>
<line x1="402.2" y1="489.4" x2="402.2" y2="492" stroke="#000" stroke-width="1.5"/>
<line x1="416.6" y1="489.4" x2="416.6" y2="492" stroke="#000" stroke-width="1.5"/>
<line x1="430.9" y1="489.4" x2="430.9" y2="492" stroke="#000" stroke-width="1.5"/>
<line x1="445.3" y1="489.4" x2="445.3" y2="492" stroke="#000" stroke-width="1.5"/>
<line x1="459.7" y1="489.4" x2="459.7" y2="492" stroke="#000" stroke-width="1.5"/>
<line x1="474.1" y1="489.4" x2="474.1" y2="492" stroke="#000" stroke-width="1.5"/>
<line x1="488.4" y1="489.4" x2="488.4" y2="492" stroke="#000" stroke-width="1.5"/>
<line x1="502.8" y1="489.4" x2="502.8" y2="493.5" stroke="#000" stroke-width="1.8"/>
<text transform="translate(75.6,503.3) rotate(-45)" text-anchor="end" font-size="12" font-weight="bold">0</text>
<text transform="translate(219.3,503.3) rotate(-45)" text-anchor="end" font-size="12" font-weight="bold">100</text>
<text transform="translate(363.1,503.3) rotate(-45)" text-anchor="end" font-size="12" font-weight="bold">200</text>
<text transform="translate(506.8,503.3) rotate(-45)" text-anchor="end" font-size="12" font-weight="bold">300</text>
<text x="8.5" y="292.2" font-size="16" font-weight="bold">C)</text>
<text transform="translate(17.5,394) rotate(-90)" text-anchor="middle" font-size="12.9" font-weight="bold">Normalized Integrated</text>
<text transform="translate(33.6,394.5) rotate(-90)" text-anchor="middle" font-size="12.7" font-weight="bold">US Intensity (AU)</text>
<text x="196.5" y="541.3" font-size="11.5" font-weight="bold" textLength="181" lengthAdjust="spacing">Number of Pulses at 75 mJ/cm<tspan font-size="8" dy="-5">2</tspan></text>
<rect x="246" y="301" width="118" height="17" fill="#fdebf5"/><rect x="246" y="325" width="113" height="16" fill="#e8fbf7"/>
<text x="246.5" y="313.7" font-size="16" font-weight="bold" fill="#a8321e">t</text>
<text x="252.6" y="317.9" font-size="12" font-weight="bold" fill="#a8321e">1/2</text>
<text x="270.5" y="313.7" font-size="16" font-weight="bold" fill="#a8321e">:</text>
<text x="280.1" y="313.7" font-size="16" font-weight="bold" fill="#a8321e">39.5</text>
<text x="316.4" y="314.2" font-size="17" fill="#a0604a">±</text>
<text x="331.3" y="313.7" font-size="16" font-weight="bold" fill="#a8321e">6.90</text>
<text x="246.5" y="337.2" font-size="16" font-weight="bold" fill="#3a9a22">t</text>
<text x="252.6" y="341.4" font-size="12" font-weight="bold" fill="#3a9a22">1/2</text>
<text x="270.5" y="337.2" font-size="16" font-weight="bold" fill="#3a9a22">:</text>
<text x="280.2" y="337.2" font-size="16" font-weight="bold" fill="#3a9a22">104</text>
<text x="311.2" y="337.7" font-size="17" fill="#70a060">±</text>
<text x="327.1" y="337.2" font-size="16" font-weight="bold" fill="#3a9a22">21.5</text>
<text x="246.5" y="360.9" font-size="16" font-weight="bold" fill="#1a1aa6">t</text>
<text x="252.6" y="365.1" font-size="12" font-weight="bold" fill="#1a1aa6">1/2</text>
<text x="270.5" y="360.9" font-size="16" font-weight="bold" fill="#1a1aa6">:</text>
<text x="280.2" y="360.9" font-size="16" font-weight="bold" fill="#1a1aa6">29.1</text>
<text x="316.8" y="361.4" font-size="17" fill="#5050a8">±</text>
<text x="330.6" y="360.9" font-size="16" font-weight="bold" fill="#1a1aa6">3.91</text>
<line x1="381" y1="306" x2="395.3" y2="306" stroke="#c08870" stroke-width="1.2"/>
<rect x="386.5" y="304.8" width="3.6" height="2.4" fill="#8a3a20"/>
<text x="402.2" y="310.7" font-size="12" fill="#2a2a2a">BSA</text>
<line x1="381" y1="332" x2="395.3" y2="332" stroke="#80b870" stroke-width="1.2"/>
<rect x="386.5" y="330.8" width="3.6" height="2.4" fill="#2a7a20"/>
<text x="402.2" y="336.7" font-size="12" fill="#2a2a2a">Lipid</text>
<line x1="381" y1="358" x2="395.3" y2="358" stroke="#6a6ad0" stroke-width="1.2"/>
<rect x="386.5" y="356.8" width="3.6" height="2.4" fill="#2020a0"/>
<text x="402.2" y="362.7" font-size="12" fill="#2a2a2a">Zonyl</text>
</svg></body></html>
